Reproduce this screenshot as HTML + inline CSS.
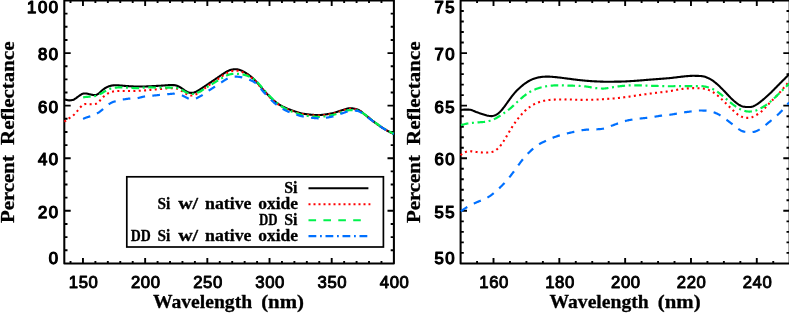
<!DOCTYPE html>
<html><head><meta charset="utf-8"><title>plot</title>
<style>html,body{margin:0;padding:0;background:#fff}svg{display:block}</style></head>
<body>
<svg width="789" height="314" viewBox="0 0 789 314" style="will-change:transform">
<rect width="789" height="314" fill="#fff"/>
<rect x="64.3" y="0.5" width="329.59999999999997" height="262.9" fill="none" stroke="#000" stroke-width="2.05" stroke-linejoin="round"/>
<rect x="460.6" y="0.5" width="329.1" height="262.9" fill="none" stroke="#000" stroke-width="2.05" stroke-linejoin="round"/>
<path d="M70.52 263.4 v-2.4 M70.52 0.5 v2.4 M82.96 263.4 v-5.4 M82.96 0.5 v5.4 M95.39 263.4 v-2.4 M95.39 0.5 v2.4 M107.83 263.4 v-2.4 M107.83 0.5 v2.4 M120.27 263.4 v-2.4 M120.27 0.5 v2.4 M132.71 263.4 v-2.4 M132.71 0.5 v2.4 M145.15 263.4 v-5.4 M145.15 0.5 v5.4 M157.58 263.4 v-2.4 M157.58 0.5 v2.4 M170.02 263.4 v-2.4 M170.02 0.5 v2.4 M182.46 263.4 v-2.4 M182.46 0.5 v2.4 M194.90 263.4 v-2.4 M194.90 0.5 v2.4 M207.33 263.4 v-5.4 M207.33 0.5 v5.4 M219.77 263.4 v-2.4 M219.77 0.5 v2.4 M232.21 263.4 v-2.4 M232.21 0.5 v2.4 M244.65 263.4 v-2.4 M244.65 0.5 v2.4 M257.08 263.4 v-2.4 M257.08 0.5 v2.4 M269.52 263.4 v-5.4 M269.52 0.5 v5.4 M281.96 263.4 v-2.4 M281.96 0.5 v2.4 M294.40 263.4 v-2.4 M294.40 0.5 v2.4 M306.84 263.4 v-2.4 M306.84 0.5 v2.4 M319.27 263.4 v-2.4 M319.27 0.5 v2.4 M331.71 263.4 v-5.4 M331.71 0.5 v5.4 M344.15 263.4 v-2.4 M344.15 0.5 v2.4 M356.59 263.4 v-2.4 M356.59 0.5 v2.4 M369.02 263.4 v-2.4 M369.02 0.5 v2.4 M381.46 263.4 v-2.4 M381.46 0.5 v2.4 M64.3 250.25 h3.2 M393.9 250.25 h-3.2 M64.3 237.11 h3.2 M393.9 237.11 h-3.2 M64.3 223.96 h3.2 M393.9 223.96 h-3.2 M64.3 210.82 h6.4 M393.9 210.82 h-6.4 M64.3 197.67 h3.2 M393.9 197.67 h-3.2 M64.3 184.53 h3.2 M393.9 184.53 h-3.2 M64.3 171.38 h3.2 M393.9 171.38 h-3.2 M64.3 158.24 h6.4 M393.9 158.24 h-6.4 M64.3 145.09 h3.2 M393.9 145.09 h-3.2 M64.3 131.95 h3.2 M393.9 131.95 h-3.2 M64.3 118.80 h3.2 M393.9 118.80 h-3.2 M64.3 105.66 h6.4 M393.9 105.66 h-6.4 M64.3 92.51 h3.2 M393.9 92.51 h-3.2 M64.3 79.37 h3.2 M393.9 79.37 h-3.2 M64.3 66.22 h3.2 M393.9 66.22 h-3.2 M64.3 53.08 h6.4 M393.9 53.08 h-6.4 M64.3 39.94 h3.2 M393.9 39.94 h-3.2 M64.3 26.79 h3.2 M393.9 26.79 h-3.2 M64.3 13.65 h3.2 M393.9 13.65 h-3.2" stroke="#000" stroke-width="1.9" fill="none"/>
<path d="M477.06 263.4 v-2.4 M477.06 0.5 v2.4 M493.51 263.4 v-5.4 M493.51 0.5 v5.4 M509.97 263.4 v-2.4 M509.97 0.5 v2.4 M526.42 263.4 v-2.4 M526.42 0.5 v2.4 M542.88 263.4 v-2.4 M542.88 0.5 v2.4 M559.33 263.4 v-5.4 M559.33 0.5 v5.4 M575.79 263.4 v-2.4 M575.79 0.5 v2.4 M592.24 263.4 v-2.4 M592.24 0.5 v2.4 M608.70 263.4 v-2.4 M608.70 0.5 v2.4 M625.15 263.4 v-5.4 M625.15 0.5 v5.4 M641.61 263.4 v-2.4 M641.61 0.5 v2.4 M658.06 263.4 v-2.4 M658.06 0.5 v2.4 M674.52 263.4 v-2.4 M674.52 0.5 v2.4 M690.97 263.4 v-5.4 M690.97 0.5 v5.4 M707.43 263.4 v-2.4 M707.43 0.5 v2.4 M723.88 263.4 v-2.4 M723.88 0.5 v2.4 M740.34 263.4 v-2.4 M740.34 0.5 v2.4 M756.79 263.4 v-5.4 M756.79 0.5 v5.4 M773.25 263.4 v-2.4 M773.25 0.5 v2.4 M460.6 252.88 h3.2 M789.7 252.88 h-3.2 M460.6 242.37 h3.2 M789.7 242.37 h-3.2 M460.6 231.85 h3.2 M789.7 231.85 h-3.2 M460.6 221.34 h3.2 M789.7 221.34 h-3.2 M460.6 210.82 h6.4 M789.7 210.82 h-6.4 M460.6 200.30 h3.2 M789.7 200.30 h-3.2 M460.6 189.79 h3.2 M789.7 189.79 h-3.2 M460.6 179.27 h3.2 M789.7 179.27 h-3.2 M460.6 168.76 h3.2 M789.7 168.76 h-3.2 M460.6 158.24 h6.4 M789.7 158.24 h-6.4 M460.6 147.72 h3.2 M789.7 147.72 h-3.2 M460.6 137.21 h3.2 M789.7 137.21 h-3.2 M460.6 126.69 h3.2 M789.7 126.69 h-3.2 M460.6 116.18 h3.2 M789.7 116.18 h-3.2 M460.6 105.66 h6.4 M789.7 105.66 h-6.4 M460.6 95.14 h3.2 M789.7 95.14 h-3.2 M460.6 84.63 h3.2 M789.7 84.63 h-3.2 M460.6 74.11 h3.2 M789.7 74.11 h-3.2 M460.6 63.60 h3.2 M789.7 63.60 h-3.2 M460.6 53.08 h6.4 M789.7 53.08 h-6.4 M460.6 42.56 h3.2 M789.7 42.56 h-3.2 M460.6 32.05 h3.2 M789.7 32.05 h-3.2 M460.6 21.53 h3.2 M789.7 21.53 h-3.2 M460.6 11.02 h3.2 M789.7 11.02 h-3.2" stroke="#000" stroke-width="1.9" fill="none"/>
<clipPath id="cl"><rect x="63.3" y="0.5" width="331.59999999999997" height="262.9"/></clipPath>
<g clip-path="url(#cl)" fill="none" stroke-linejoin="round">
<path d="M64.30 99.50 L64.61 99.52 L64.92 99.55 L65.23 99.60 L65.54 99.66 L65.85 99.73 L66.17 99.80 L66.48 99.88 L66.79 99.97 L67.10 100.05 L67.41 100.12 L67.72 100.19 L68.03 100.25 L68.34 100.30 L68.65 100.33 L68.96 100.35 L69.28 100.36 L69.59 100.36 L69.90 100.35 L70.21 100.33 L70.52 100.30 L70.83 100.26 L71.14 100.22 L71.45 100.17 L71.76 100.12 L72.07 100.08 L72.38 100.03 L72.70 99.97 L73.01 99.89 L73.32 99.80 L73.63 99.68 L73.94 99.53 L74.25 99.35 L74.56 99.16 L74.87 98.95 L75.18 98.73 L75.49 98.51 L75.80 98.29 L76.12 98.08 L76.43 97.86 L76.74 97.64 L77.05 97.41 L77.36 97.19 L77.67 96.96 L77.98 96.72 L78.29 96.49 L78.60 96.25 L78.91 96.02 L79.23 95.79 L79.54 95.57 L79.85 95.36 L80.16 95.15 L80.47 94.94 L80.78 94.75 L81.09 94.55 L81.40 94.36 L81.71 94.18 L82.02 94.02 L82.33 93.87 L82.65 93.75 L82.96 93.65 L83.27 93.58 L83.58 93.54 L83.89 93.52 L84.20 93.51 L84.51 93.51 L84.82 93.51 L85.13 93.51 L85.44 93.50 L85.76 93.50 L86.07 93.51 L86.38 93.52 L86.69 93.56 L87.00 93.61 L87.31 93.68 L87.62 93.75 L87.93 93.84 L88.24 93.93 L88.55 94.02 L88.86 94.10 L89.18 94.17 L89.49 94.25 L89.80 94.32 L90.11 94.38 L90.42 94.45 L90.73 94.52 L91.04 94.58 L91.35 94.65 L91.66 94.71 L91.97 94.78 L92.28 94.84 L92.60 94.90 L92.91 94.96 L93.22 95.01 L93.53 95.06 L93.84 95.09 L94.15 95.12 L94.46 95.13 L94.77 95.12 L95.08 95.10 L95.39 95.06 L95.71 95.00 L96.02 94.93 L96.33 94.83 L96.64 94.71 L96.95 94.57 L97.26 94.41 L97.57 94.24 L97.88 94.04 L98.19 93.82 L98.50 93.59 L98.81 93.35 L99.13 93.09 L99.44 92.82 L99.75 92.54 L100.06 92.26 L100.37 91.97 L100.68 91.69 L100.99 91.40 L101.30 91.11 L101.61 90.82 L101.92 90.54 L102.24 90.27 L102.55 90.00 L102.86 89.74 L103.17 89.49 L103.48 89.25 L103.79 89.03 L104.10 88.81 L104.41 88.60 L104.72 88.40 L105.03 88.21 L105.34 88.02 L105.66 87.84 L105.97 87.66 L106.28 87.49 L106.59 87.33 L106.90 87.17 L107.21 87.02 L107.52 86.87 L107.83 86.73 L108.14 86.60 L108.45 86.47 L108.76 86.35 L109.08 86.24 L109.39 86.14 L109.70 86.04 L110.01 85.95 L110.32 85.87 L110.63 85.79 L110.94 85.72 L111.25 85.65 L111.56 85.59 L111.87 85.54 L112.19 85.49 L112.50 85.45 L112.81 85.41 L113.12 85.38 L113.43 85.35 L113.74 85.32 L114.05 85.30 L114.36 85.29 L114.67 85.27 L114.98 85.27 L115.29 85.26 L115.61 85.26 L115.92 85.26 L116.23 85.26 L116.54 85.27 L116.85 85.28 L117.16 85.29 L117.47 85.30 L117.78 85.32 L118.09 85.34 L118.40 85.35 L118.72 85.37 L119.03 85.39 L119.34 85.41 L119.65 85.43 L119.96 85.46 L120.27 85.48 L120.58 85.51 L120.89 85.53 L121.20 85.56 L121.51 85.59 L121.82 85.61 L122.14 85.64 L122.45 85.67 L122.76 85.70 L123.07 85.72 L123.38 85.75 L123.69 85.78 L124.00 85.80 L124.31 85.83 L124.62 85.86 L124.93 85.88 L125.24 85.91 L125.56 85.94 L125.87 85.96 L126.18 85.99 L126.49 86.01 L126.80 86.04 L127.11 86.06 L127.42 86.08 L127.73 86.11 L128.04 86.13 L128.35 86.15 L128.67 86.17 L128.98 86.19 L129.29 86.21 L129.60 86.23 L129.91 86.25 L130.22 86.27 L130.53 86.29 L130.84 86.31 L131.15 86.33 L131.46 86.35 L131.77 86.36 L132.09 86.37 L132.40 86.39 L132.71 86.40 L133.02 86.41 L133.33 86.42 L133.64 86.43 L133.95 86.44 L134.26 86.45 L134.57 86.46 L134.88 86.47 L135.20 86.48 L135.51 86.49 L135.82 86.50 L136.13 86.50 L136.44 86.51 L136.75 86.51 L137.06 86.52 L137.37 86.52 L137.68 86.53 L137.99 86.53 L138.30 86.53 L138.62 86.53 L138.93 86.53 L139.24 86.53 L139.55 86.53 L139.86 86.52 L140.17 86.52 L140.48 86.52 L140.79 86.52 L141.10 86.52 L141.41 86.51 L141.72 86.51 L142.04 86.51 L142.35 86.51 L142.66 86.50 L142.97 86.50 L143.28 86.50 L143.59 86.49 L143.90 86.49 L144.21 86.48 L144.52 86.48 L144.83 86.47 L145.15 86.46 L145.46 86.45 L145.77 86.44 L146.08 86.43 L146.39 86.42 L146.70 86.40 L147.01 86.39 L147.32 86.38 L147.63 86.36 L147.94 86.35 L148.25 86.33 L148.57 86.32 L148.88 86.31 L149.19 86.29 L149.50 86.28 L149.81 86.26 L150.12 86.25 L150.43 86.23 L150.74 86.22 L151.05 86.20 L151.36 86.18 L151.68 86.17 L151.99 86.15 L152.30 86.13 L152.61 86.11 L152.92 86.10 L153.23 86.08 L153.54 86.06 L153.85 86.05 L154.16 86.03 L154.47 86.01 L154.78 86.00 L155.10 85.98 L155.41 85.97 L155.72 85.95 L156.03 85.93 L156.34 85.92 L156.65 85.90 L156.96 85.89 L157.27 85.87 L157.58 85.86 L157.89 85.84 L158.20 85.82 L158.52 85.81 L158.83 85.79 L159.14 85.78 L159.45 85.76 L159.76 85.74 L160.07 85.73 L160.38 85.71 L160.69 85.70 L161.00 85.68 L161.31 85.66 L161.63 85.65 L161.94 85.63 L162.25 85.61 L162.56 85.59 L162.87 85.56 L163.18 85.54 L163.49 85.51 L163.80 85.49 L164.11 85.46 L164.42 85.43 L164.73 85.41 L165.05 85.38 L165.36 85.36 L165.67 85.33 L165.98 85.31 L166.29 85.29 L166.60 85.27 L166.91 85.24 L167.22 85.22 L167.53 85.20 L167.84 85.18 L168.16 85.16 L168.47 85.14 L168.78 85.12 L169.09 85.11 L169.40 85.09 L169.71 85.08 L170.02 85.07 L170.33 85.06 L170.64 85.05 L170.95 85.05 L171.26 85.05 L171.58 85.06 L171.89 85.06 L172.20 85.07 L172.51 85.07 L172.82 85.08 L173.13 85.08 L173.44 85.09 L173.75 85.11 L174.06 85.13 L174.37 85.16 L174.68 85.20 L175.00 85.25 L175.31 85.31 L175.62 85.38 L175.93 85.45 L176.24 85.54 L176.55 85.63 L176.86 85.72 L177.17 85.83 L177.48 85.95 L177.79 86.07 L178.11 86.20 L178.42 86.34 L178.73 86.49 L179.04 86.65 L179.35 86.82 L179.66 86.99 L179.97 87.17 L180.28 87.36 L180.59 87.55 L180.90 87.75 L181.21 87.95 L181.53 88.15 L181.84 88.36 L182.15 88.57 L182.46 88.78 L182.77 89.00 L183.08 89.21 L183.39 89.43 L183.70 89.65 L184.01 89.86 L184.32 90.08 L184.64 90.29 L184.95 90.50 L185.26 90.71 L185.57 90.91 L185.88 91.10 L186.19 91.29 L186.50 91.46 L186.81 91.64 L187.12 91.80 L187.43 91.95 L187.74 92.10 L188.06 92.24 L188.37 92.36 L188.68 92.47 L188.99 92.57 L189.30 92.65 L189.61 92.71 L189.92 92.76 L190.23 92.80 L190.54 92.82 L190.85 92.84 L191.16 92.85 L191.48 92.86 L191.79 92.86 L192.10 92.86 L192.41 92.84 L192.72 92.82 L193.03 92.77 L193.34 92.72 L193.65 92.64 L193.96 92.55 L194.27 92.45 L194.59 92.33 L194.90 92.21 L195.21 92.07 L195.52 91.93 L195.83 91.78 L196.14 91.62 L196.45 91.46 L196.76 91.29 L197.07 91.13 L197.38 90.96 L197.69 90.78 L198.01 90.61 L198.32 90.43 L198.63 90.24 L198.94 90.06 L199.25 89.86 L199.56 89.67 L199.87 89.47 L200.18 89.27 L200.49 89.07 L200.80 88.87 L201.12 88.66 L201.43 88.46 L201.74 88.25 L202.05 88.04 L202.36 87.83 L202.67 87.62 L202.98 87.42 L203.29 87.21 L203.60 87.00 L203.91 86.79 L204.22 86.58 L204.54 86.38 L204.85 86.17 L205.16 85.97 L205.47 85.76 L205.78 85.55 L206.09 85.35 L206.40 85.14 L206.71 84.94 L207.02 84.73 L207.33 84.52 L207.64 84.31 L207.96 84.11 L208.27 83.90 L208.58 83.69 L208.89 83.48 L209.20 83.28 L209.51 83.07 L209.82 82.86 L210.13 82.65 L210.44 82.44 L210.75 82.23 L211.07 82.02 L211.38 81.82 L211.69 81.61 L212.00 81.40 L212.31 81.19 L212.62 80.98 L212.93 80.77 L213.24 80.56 L213.55 80.35 L213.86 80.14 L214.17 79.93 L214.49 79.73 L214.80 79.52 L215.11 79.31 L215.42 79.10 L215.73 78.89 L216.04 78.68 L216.35 78.47 L216.66 78.26 L216.97 78.05 L217.28 77.83 L217.60 77.62 L217.91 77.41 L218.22 77.20 L218.53 76.99 L218.84 76.78 L219.15 76.57 L219.46 76.35 L219.77 76.14 L220.08 75.93 L220.39 75.71 L220.70 75.50 L221.02 75.28 L221.33 75.07 L221.64 74.86 L221.95 74.64 L222.26 74.43 L222.57 74.22 L222.88 74.01 L223.19 73.80 L223.50 73.60 L223.81 73.40 L224.12 73.19 L224.44 72.99 L224.75 72.79 L225.06 72.59 L225.37 72.39 L225.68 72.19 L225.99 72.00 L226.30 71.82 L226.61 71.64 L226.92 71.48 L227.23 71.32 L227.55 71.17 L227.86 71.02 L228.17 70.88 L228.48 70.74 L228.79 70.61 L229.10 70.47 L229.41 70.34 L229.72 70.21 L230.03 70.09 L230.34 69.98 L230.65 69.88 L230.97 69.80 L231.28 69.72 L231.59 69.65 L231.90 69.58 L232.21 69.53 L232.52 69.48 L232.83 69.44 L233.14 69.40 L233.45 69.36 L233.76 69.33 L234.08 69.30 L234.39 69.27 L234.70 69.24 L235.01 69.22 L235.32 69.21 L235.63 69.20 L235.94 69.21 L236.25 69.22 L236.56 69.25 L236.87 69.29 L237.18 69.34 L237.50 69.40 L237.81 69.46 L238.12 69.53 L238.43 69.61 L238.74 69.69 L239.05 69.77 L239.36 69.86 L239.67 69.96 L239.98 70.05 L240.29 70.15 L240.60 70.26 L240.92 70.37 L241.23 70.49 L241.54 70.62 L241.85 70.76 L242.16 70.92 L242.47 71.08 L242.78 71.24 L243.09 71.41 L243.40 71.58 L243.71 71.75 L244.03 71.93 L244.34 72.10 L244.65 72.27 L244.96 72.45 L245.27 72.63 L245.58 72.81 L245.89 73.00 L246.20 73.19 L246.51 73.38 L246.82 73.57 L247.13 73.77 L247.45 73.98 L247.76 74.18 L248.07 74.39 L248.38 74.61 L248.69 74.83 L249.00 75.05 L249.31 75.27 L249.62 75.50 L249.93 75.73 L250.24 75.97 L250.56 76.21 L250.87 76.46 L251.18 76.71 L251.49 76.97 L251.80 77.24 L252.11 77.51 L252.42 77.79 L252.73 78.08 L253.04 78.37 L253.35 78.67 L253.66 78.98 L253.98 79.29 L254.29 79.61 L254.60 79.93 L254.91 80.25 L255.22 80.58 L255.53 80.91 L255.84 81.24 L256.15 81.57 L256.46 81.90 L256.77 82.24 L257.08 82.57 L257.40 82.91 L257.71 83.25 L258.02 83.60 L258.33 83.95 L258.64 84.31 L258.95 84.67 L259.26 85.04 L259.57 85.41 L259.88 85.79 L260.19 86.16 L260.51 86.54 L260.82 86.91 L261.13 87.29 L261.44 87.66 L261.75 88.03 L262.06 88.39 L262.37 88.75 L262.68 89.11 L262.99 89.46 L263.30 89.82 L263.61 90.17 L263.93 90.51 L264.24 90.86 L264.55 91.21 L264.86 91.56 L265.17 91.90 L265.48 92.24 L265.79 92.58 L266.10 92.92 L266.41 93.25 L266.72 93.58 L267.04 93.91 L267.35 94.23 L267.66 94.55 L267.97 94.87 L268.28 95.19 L268.59 95.51 L268.90 95.82 L269.21 96.13 L269.52 96.44 L269.83 96.76 L270.14 97.07 L270.46 97.38 L270.77 97.69 L271.08 97.99 L271.39 98.30 L271.70 98.60 L272.01 98.90 L272.32 99.19 L272.63 99.48 L272.94 99.76 L273.25 100.05 L273.56 100.32 L273.88 100.59 L274.19 100.86 L274.50 101.12 L274.81 101.37 L275.12 101.62 L275.43 101.86 L275.74 102.10 L276.05 102.33 L276.36 102.56 L276.67 102.78 L276.99 103.00 L277.30 103.22 L277.61 103.43 L277.92 103.64 L278.23 103.85 L278.54 104.06 L278.85 104.26 L279.16 104.46 L279.47 104.66 L279.78 104.85 L280.09 105.04 L280.41 105.23 L280.72 105.41 L281.03 105.59 L281.34 105.77 L281.65 105.94 L281.96 106.11 L282.27 106.28 L282.58 106.44 L282.89 106.60 L283.20 106.76 L283.52 106.91 L283.83 107.06 L284.14 107.21 L284.45 107.36 L284.76 107.50 L285.07 107.65 L285.38 107.79 L285.69 107.93 L286.00 108.07 L286.31 108.20 L286.62 108.34 L286.94 108.47 L287.25 108.60 L287.56 108.73 L287.87 108.86 L288.18 108.99 L288.49 109.11 L288.80 109.23 L289.11 109.35 L289.42 109.47 L289.73 109.59 L290.04 109.71 L290.36 109.83 L290.67 109.94 L290.98 110.06 L291.29 110.17 L291.60 110.28 L291.91 110.39 L292.22 110.50 L292.53 110.60 L292.84 110.71 L293.15 110.81 L293.47 110.92 L293.78 111.02 L294.09 111.12 L294.40 111.23 L294.71 111.33 L295.02 111.43 L295.33 111.54 L295.64 111.64 L295.95 111.74 L296.26 111.85 L296.57 111.95 L296.89 112.05 L297.20 112.15 L297.51 112.25 L297.82 112.35 L298.13 112.45 L298.44 112.55 L298.75 112.64 L299.06 112.74 L299.37 112.83 L299.68 112.92 L300.00 113.01 L300.31 113.09 L300.62 113.17 L300.93 113.25 L301.24 113.33 L301.55 113.40 L301.86 113.48 L302.17 113.54 L302.48 113.61 L302.79 113.67 L303.10 113.72 L303.42 113.77 L303.73 113.82 L304.04 113.87 L304.35 113.91 L304.66 113.95 L304.97 113.99 L305.28 114.03 L305.59 114.07 L305.90 114.11 L306.21 114.15 L306.52 114.19 L306.84 114.23 L307.15 114.27 L307.46 114.31 L307.77 114.34 L308.08 114.38 L308.39 114.42 L308.70 114.45 L309.01 114.49 L309.32 114.52 L309.63 114.56 L309.95 114.59 L310.26 114.62 L310.57 114.65 L310.88 114.68 L311.19 114.71 L311.50 114.74 L311.81 114.77 L312.12 114.79 L312.43 114.82 L312.74 114.84 L313.05 114.87 L313.37 114.89 L313.68 114.91 L313.99 114.93 L314.30 114.95 L314.61 114.96 L314.92 114.98 L315.23 114.99 L315.54 115.01 L315.85 115.02 L316.16 115.03 L316.48 115.04 L316.79 115.05 L317.10 115.05 L317.41 115.06 L317.72 115.06 L318.03 115.06 L318.34 115.06 L318.65 115.05 L318.96 115.04 L319.27 115.04 L319.58 115.02 L319.90 115.01 L320.21 114.99 L320.52 114.98 L320.83 114.96 L321.14 114.93 L321.45 114.91 L321.76 114.88 L322.07 114.85 L322.38 114.82 L322.69 114.79 L323.00 114.76 L323.32 114.72 L323.63 114.69 L323.94 114.65 L324.25 114.61 L324.56 114.57 L324.87 114.52 L325.18 114.48 L325.49 114.44 L325.80 114.39 L326.11 114.34 L326.43 114.29 L326.74 114.24 L327.05 114.19 L327.36 114.14 L327.67 114.09 L327.98 114.04 L328.29 113.99 L328.60 113.93 L328.91 113.88 L329.22 113.82 L329.53 113.77 L329.85 113.71 L330.16 113.66 L330.47 113.60 L330.78 113.54 L331.09 113.49 L331.40 113.43 L331.71 113.38 L332.02 113.32 L332.33 113.26 L332.64 113.19 L332.96 113.13 L333.27 113.05 L333.58 112.97 L333.89 112.89 L334.20 112.80 L334.51 112.71 L334.82 112.62 L335.13 112.52 L335.44 112.42 L335.75 112.32 L336.06 112.22 L336.38 112.12 L336.69 112.01 L337.00 111.90 L337.31 111.79 L337.62 111.69 L337.93 111.58 L338.24 111.47 L338.55 111.36 L338.86 111.25 L339.17 111.14 L339.48 111.03 L339.80 110.93 L340.11 110.83 L340.42 110.73 L340.73 110.63 L341.04 110.54 L341.35 110.45 L341.66 110.36 L341.97 110.27 L342.28 110.18 L342.59 110.08 L342.91 109.99 L343.22 109.89 L343.53 109.79 L343.84 109.69 L344.15 109.59 L344.46 109.49 L344.77 109.38 L345.08 109.28 L345.39 109.18 L345.70 109.08 L346.01 108.98 L346.33 108.89 L346.64 108.80 L346.95 108.71 L347.26 108.63 L347.57 108.56 L347.88 108.49 L348.19 108.42 L348.50 108.37 L348.81 108.32 L349.12 108.28 L349.44 108.24 L349.75 108.22 L350.06 108.21 L350.37 108.20 L350.68 108.21 L350.99 108.22 L351.30 108.24 L351.61 108.26 L351.92 108.29 L352.23 108.33 L352.54 108.37 L352.86 108.42 L353.17 108.47 L353.48 108.53 L353.79 108.59 L354.10 108.65 L354.41 108.72 L354.72 108.79 L355.03 108.86 L355.34 108.94 L355.65 109.01 L355.96 109.09 L356.28 109.17 L356.59 109.25 L356.90 109.34 L357.21 109.43 L357.52 109.54 L357.83 109.65 L358.14 109.77 L358.45 109.91 L358.76 110.06 L359.07 110.22 L359.39 110.39 L359.70 110.58 L360.01 110.79 L360.32 111.00 L360.63 111.22 L360.94 111.45 L361.25 111.69 L361.56 111.93 L361.87 112.18 L362.18 112.43 L362.49 112.68 L362.81 112.94 L363.12 113.20 L363.43 113.46 L363.74 113.72 L364.05 113.97 L364.36 114.23 L364.67 114.47 L364.98 114.72 L365.29 114.96 L365.60 115.19 L365.92 115.43 L366.23 115.67 L366.54 115.90 L366.85 116.14 L367.16 116.39 L367.47 116.63 L367.78 116.88 L368.09 117.13 L368.40 117.39 L368.71 117.64 L369.02 117.90 L369.34 118.15 L369.65 118.41 L369.96 118.66 L370.27 118.92 L370.58 119.18 L370.89 119.43 L371.20 119.69 L371.51 119.94 L371.82 120.19 L372.13 120.44 L372.44 120.69 L372.76 120.93 L373.07 121.17 L373.38 121.41 L373.69 121.65 L374.00 121.88 L374.31 122.11 L374.62 122.34 L374.93 122.57 L375.24 122.80 L375.55 123.02 L375.87 123.25 L376.18 123.47 L376.49 123.69 L376.80 123.92 L377.11 124.14 L377.42 124.36 L377.73 124.58 L378.04 124.81 L378.35 125.02 L378.66 125.24 L378.97 125.46 L379.29 125.68 L379.60 125.89 L379.91 126.10 L380.22 126.32 L380.53 126.53 L380.84 126.74 L381.15 126.94 L381.46 127.15 L381.77 127.35 L382.08 127.56 L382.40 127.76 L382.71 127.96 L383.02 128.16 L383.33 128.35 L383.64 128.55 L383.95 128.74 L384.26 128.93 L384.57 129.12 L384.88 129.31 L385.19 129.49 L385.50 129.67 L385.82 129.85 L386.13 130.03 L386.44 130.21 L386.75 130.39 L387.06 130.56 L387.37 130.74 L387.68 130.91 L387.99 131.08 L388.30 131.25 L388.61 131.42 L388.92 131.59 L389.24 131.75 L389.55 131.91 L389.86 132.08 L390.17 132.24 L390.48 132.40 L390.79 132.55 L391.10 132.71 L391.41 132.86 L391.72 133.02 L392.03 133.17 L392.35 133.32 L392.66 133.47 L392.97 133.61 L393.28 133.76 L393.59 133.90 L393.90 134.05" stroke="#000" stroke-width="2.1"/>
<path d="M64.30 121.60 L64.61 121.39 L64.92 121.19 L65.23 120.98 L65.54 120.77 L65.85 120.56 L66.17 120.35 L66.48 120.14 L66.79 119.92 L67.10 119.71 L67.41 119.49 L67.72 119.28 L68.03 119.06 L68.34 118.84 L68.65 118.62 L68.96 118.40 L69.28 118.18 L69.59 117.96 L69.90 117.75 L70.21 117.53 L70.52 117.32 L70.83 117.10 L71.14 116.89 L71.45 116.67 L71.76 116.46 L72.07 116.23 L72.38 116.00 L72.70 115.77 L73.01 115.52 L73.32 115.27 L73.63 114.99 L73.94 114.71 L74.25 114.41 L74.56 114.09 L74.87 113.77 L75.18 113.44 L75.49 113.10 L75.80 112.75 L76.12 112.40 L76.43 112.05 L76.74 111.68 L77.05 111.31 L77.36 110.93 L77.67 110.55 L77.98 110.15 L78.29 109.76 L78.60 109.36 L78.91 108.97 L79.23 108.59 L79.54 108.22 L79.85 107.86 L80.16 107.51 L80.47 107.17 L80.78 106.84 L81.09 106.52 L81.40 106.21 L81.71 105.91 L82.02 105.62 L82.33 105.36 L82.65 105.12 L82.96 104.90 L83.27 104.71 L83.58 104.55 L83.89 104.40 L84.20 104.29 L84.51 104.19 L84.82 104.11 L85.13 104.04 L85.44 103.99 L85.76 103.96 L86.07 103.93 L86.38 103.92 L86.69 103.92 L87.00 103.93 L87.31 103.95 L87.62 103.97 L87.93 104.00 L88.24 104.03 L88.55 104.06 L88.86 104.08 L89.18 104.11 L89.49 104.13 L89.80 104.15 L90.11 104.17 L90.42 104.18 L90.73 104.20 L91.04 104.21 L91.35 104.22 L91.66 104.23 L91.97 104.24 L92.28 104.24 L92.60 104.25 L92.91 104.24 L93.22 104.23 L93.53 104.22 L93.84 104.20 L94.15 104.17 L94.46 104.14 L94.77 104.09 L95.08 104.03 L95.39 103.95 L95.71 103.86 L96.02 103.75 L96.33 103.62 L96.64 103.46 L96.95 103.28 L97.26 103.08 L97.57 102.86 L97.88 102.62 L98.19 102.36 L98.50 102.08 L98.81 101.78 L99.13 101.47 L99.44 101.15 L99.75 100.82 L100.06 100.48 L100.37 100.13 L100.68 99.78 L100.99 99.43 L101.30 99.08 L101.61 98.74 L101.92 98.40 L102.24 98.06 L102.55 97.74 L102.86 97.42 L103.17 97.11 L103.48 96.81 L103.79 96.52 L104.10 96.24 L104.41 95.96 L104.72 95.70 L105.03 95.45 L105.34 95.20 L105.66 94.96 L105.97 94.73 L106.28 94.50 L106.59 94.28 L106.90 94.07 L107.21 93.87 L107.52 93.68 L107.83 93.50 L108.14 93.33 L108.45 93.16 L108.76 93.01 L109.08 92.86 L109.39 92.71 L109.70 92.57 L110.01 92.44 L110.32 92.31 L110.63 92.20 L110.94 92.09 L111.25 91.98 L111.56 91.89 L111.87 91.80 L112.19 91.72 L112.50 91.65 L112.81 91.58 L113.12 91.52 L113.43 91.46 L113.74 91.41 L114.05 91.36 L114.36 91.31 L114.67 91.27 L114.98 91.23 L115.29 91.20 L115.61 91.17 L115.92 91.14 L116.23 91.11 L116.54 91.09 L116.85 91.07 L117.16 91.05 L117.47 91.04 L117.78 91.02 L118.09 91.01 L118.40 91.00 L118.72 90.99 L119.03 90.98 L119.34 90.97 L119.65 90.97 L119.96 90.96 L120.27 90.96 L120.58 90.96 L120.89 90.96 L121.20 90.96 L121.51 90.96 L121.82 90.96 L122.14 90.96 L122.45 90.96 L122.76 90.96 L123.07 90.96 L123.38 90.96 L123.69 90.96 L124.00 90.96 L124.31 90.97 L124.62 90.98 L124.93 90.99 L125.24 91.00 L125.56 91.01 L125.87 91.02 L126.18 91.03 L126.49 91.04 L126.80 91.05 L127.11 91.05 L127.42 91.06 L127.73 91.06 L128.04 91.06 L128.35 91.06 L128.67 91.06 L128.98 91.06 L129.29 91.06 L129.60 91.05 L129.91 91.05 L130.22 91.05 L130.53 91.05 L130.84 91.04 L131.15 91.04 L131.46 91.04 L131.77 91.04 L132.09 91.04 L132.40 91.03 L132.71 91.03 L133.02 91.02 L133.33 91.02 L133.64 91.01 L133.95 91.00 L134.26 90.99 L134.57 90.98 L134.88 90.97 L135.20 90.96 L135.51 90.95 L135.82 90.94 L136.13 90.92 L136.44 90.91 L136.75 90.90 L137.06 90.88 L137.37 90.87 L137.68 90.86 L137.99 90.84 L138.30 90.83 L138.62 90.82 L138.93 90.80 L139.24 90.79 L139.55 90.77 L139.86 90.76 L140.17 90.74 L140.48 90.73 L140.79 90.71 L141.10 90.69 L141.41 90.68 L141.72 90.66 L142.04 90.64 L142.35 90.62 L142.66 90.59 L142.97 90.57 L143.28 90.55 L143.59 90.52 L143.90 90.50 L144.21 90.47 L144.52 90.44 L144.83 90.42 L145.15 90.39 L145.46 90.36 L145.77 90.34 L146.08 90.31 L146.39 90.28 L146.70 90.25 L147.01 90.22 L147.32 90.19 L147.63 90.16 L147.94 90.13 L148.25 90.09 L148.57 90.06 L148.88 90.03 L149.19 90.00 L149.50 89.97 L149.81 89.94 L150.12 89.91 L150.43 89.88 L150.74 89.85 L151.05 89.82 L151.36 89.79 L151.68 89.76 L151.99 89.74 L152.30 89.71 L152.61 89.68 L152.92 89.65 L153.23 89.62 L153.54 89.59 L153.85 89.57 L154.16 89.54 L154.47 89.51 L154.78 89.48 L155.10 89.46 L155.41 89.43 L155.72 89.40 L156.03 89.38 L156.34 89.35 L156.65 89.32 L156.96 89.30 L157.27 89.27 L157.58 89.25 L157.89 89.22 L158.20 89.20 L158.52 89.18 L158.83 89.16 L159.14 89.13 L159.45 89.11 L159.76 89.09 L160.07 89.06 L160.38 89.04 L160.69 89.01 L161.00 88.98 L161.31 88.95 L161.63 88.92 L161.94 88.89 L162.25 88.86 L162.56 88.82 L162.87 88.78 L163.18 88.74 L163.49 88.70 L163.80 88.66 L164.11 88.62 L164.42 88.58 L164.73 88.54 L165.05 88.51 L165.36 88.47 L165.67 88.44 L165.98 88.41 L166.29 88.38 L166.60 88.35 L166.91 88.32 L167.22 88.30 L167.53 88.28 L167.84 88.25 L168.16 88.23 L168.47 88.22 L168.78 88.20 L169.09 88.18 L169.40 88.17 L169.71 88.16 L170.02 88.15 L170.33 88.14 L170.64 88.14 L170.95 88.14 L171.26 88.14 L171.58 88.14 L171.89 88.15 L172.20 88.15 L172.51 88.16 L172.82 88.16 L173.13 88.17 L173.44 88.17 L173.75 88.18 L174.06 88.20 L174.37 88.22 L174.68 88.24 L175.00 88.28 L175.31 88.32 L175.62 88.37 L175.93 88.42 L176.24 88.49 L176.55 88.56 L176.86 88.63 L177.17 88.72 L177.48 88.82 L177.79 88.92 L178.11 89.03 L178.42 89.16 L178.73 89.29 L179.04 89.44 L179.35 89.59 L179.66 89.75 L179.97 89.91 L180.28 90.09 L180.59 90.26 L180.90 90.45 L181.21 90.64 L181.53 90.83 L181.84 91.02 L182.15 91.23 L182.46 91.43 L182.77 91.63 L183.08 91.84 L183.39 92.05 L183.70 92.25 L184.01 92.45 L184.32 92.66 L184.64 92.86 L184.95 93.06 L185.26 93.26 L185.57 93.46 L185.88 93.66 L186.19 93.86 L186.50 94.05 L186.81 94.24 L187.12 94.42 L187.43 94.59 L187.74 94.74 L188.06 94.88 L188.37 95.01 L188.68 95.12 L188.99 95.22 L189.30 95.31 L189.61 95.38 L189.92 95.44 L190.23 95.49 L190.54 95.53 L190.85 95.55 L191.16 95.56 L191.48 95.57 L191.79 95.56 L192.10 95.54 L192.41 95.51 L192.72 95.46 L193.03 95.40 L193.34 95.33 L193.65 95.24 L193.96 95.14 L194.27 95.03 L194.59 94.91 L194.90 94.79 L195.21 94.67 L195.52 94.53 L195.83 94.40 L196.14 94.25 L196.45 94.09 L196.76 93.91 L197.07 93.72 L197.38 93.52 L197.69 93.30 L198.01 93.08 L198.32 92.86 L198.63 92.64 L198.94 92.41 L199.25 92.20 L199.56 91.98 L199.87 91.77 L200.18 91.56 L200.49 91.35 L200.80 91.14 L201.12 90.93 L201.43 90.72 L201.74 90.51 L202.05 90.29 L202.36 90.08 L202.67 89.86 L202.98 89.64 L203.29 89.42 L203.60 89.19 L203.91 88.96 L204.22 88.72 L204.54 88.48 L204.85 88.24 L205.16 88.00 L205.47 87.75 L205.78 87.51 L206.09 87.26 L206.40 87.02 L206.71 86.78 L207.02 86.54 L207.33 86.30 L207.64 86.06 L207.96 85.83 L208.27 85.61 L208.58 85.38 L208.89 85.17 L209.20 84.95 L209.51 84.73 L209.82 84.52 L210.13 84.31 L210.44 84.10 L210.75 83.88 L211.07 83.67 L211.38 83.46 L211.69 83.25 L212.00 83.04 L212.31 82.83 L212.62 82.62 L212.93 82.41 L213.24 82.20 L213.55 81.99 L213.86 81.78 L214.17 81.57 L214.49 81.36 L214.80 81.14 L215.11 80.93 L215.42 80.72 L215.73 80.51 L216.04 80.30 L216.35 80.09 L216.66 79.87 L216.97 79.66 L217.28 79.45 L217.60 79.23 L217.91 79.02 L218.22 78.81 L218.53 78.59 L218.84 78.38 L219.15 78.16 L219.46 77.95 L219.77 77.73 L220.08 77.52 L220.39 77.30 L220.70 77.09 L221.02 76.87 L221.33 76.66 L221.64 76.44 L221.95 76.23 L222.26 76.02 L222.57 75.81 L222.88 75.60 L223.19 75.39 L223.50 75.18 L223.81 74.98 L224.12 74.77 L224.44 74.57 L224.75 74.37 L225.06 74.17 L225.37 73.98 L225.68 73.78 L225.99 73.60 L226.30 73.41 L226.61 73.23 L226.92 73.06 L227.23 72.89 L227.55 72.73 L227.86 72.57 L228.17 72.42 L228.48 72.27 L228.79 72.13 L229.10 72.00 L229.41 71.87 L229.72 71.75 L230.03 71.64 L230.34 71.53 L230.65 71.43 L230.97 71.33 L231.28 71.24 L231.59 71.16 L231.90 71.08 L232.21 71.01 L232.52 70.94 L232.83 70.87 L233.14 70.81 L233.45 70.76 L233.76 70.72 L234.08 70.69 L234.39 70.67 L234.70 70.66 L235.01 70.65 L235.32 70.66 L235.63 70.66 L235.94 70.67 L236.25 70.67 L236.56 70.68 L236.87 70.69 L237.18 70.70 L237.50 70.73 L237.81 70.76 L238.12 70.81 L238.43 70.87 L238.74 70.94 L239.05 71.02 L239.36 71.10 L239.67 71.19 L239.98 71.28 L240.29 71.38 L240.60 71.48 L240.92 71.58 L241.23 71.69 L241.54 71.80 L241.85 71.92 L242.16 72.05 L242.47 72.18 L242.78 72.32 L243.09 72.46 L243.40 72.61 L243.71 72.76 L244.03 72.92 L244.34 73.08 L244.65 73.24 L244.96 73.41 L245.27 73.58 L245.58 73.75 L245.89 73.92 L246.20 74.10 L246.51 74.28 L246.82 74.46 L247.13 74.65 L247.45 74.84 L247.76 75.04 L248.07 75.24 L248.38 75.44 L248.69 75.65 L249.00 75.86 L249.31 76.07 L249.62 76.29 L249.93 76.52 L250.24 76.75 L250.56 76.98 L250.87 77.22 L251.18 77.46 L251.49 77.71 L251.80 77.97 L252.11 78.23 L252.42 78.50 L252.73 78.77 L253.04 79.05 L253.35 79.34 L253.66 79.63 L253.98 79.93 L254.29 80.23 L254.60 80.54 L254.91 80.85 L255.22 81.16 L255.53 81.48 L255.84 81.81 L256.15 82.13 L256.46 82.47 L256.77 82.80 L257.08 83.14 L257.40 83.48 L257.71 83.83 L258.02 84.18 L258.33 84.53 L258.64 84.88 L258.95 85.24 L259.26 85.60 L259.57 85.96 L259.88 86.32 L260.19 86.69 L260.51 87.06 L260.82 87.42 L261.13 87.79 L261.44 88.16 L261.75 88.53 L262.06 88.89 L262.37 89.25 L262.68 89.61 L262.99 89.97 L263.30 90.32 L263.61 90.67 L263.93 91.02 L264.24 91.37 L264.55 91.71 L264.86 92.06 L265.17 92.40 L265.48 92.74 L265.79 93.08 L266.10 93.41 L266.41 93.75 L266.72 94.08 L267.04 94.41 L267.35 94.73 L267.66 95.06 L267.97 95.38 L268.28 95.70 L268.59 96.01 L268.90 96.33 L269.21 96.64 L269.52 96.95 L269.83 97.27 L270.14 97.58 L270.46 97.88 L270.77 98.19 L271.08 98.49 L271.39 98.79 L271.70 99.09 L272.01 99.38 L272.32 99.67 L272.63 99.96 L272.94 100.24 L273.25 100.52 L273.56 100.79 L273.88 101.06 L274.19 101.32 L274.50 101.58 L274.81 101.84 L275.12 102.09 L275.43 102.33 L275.74 102.57 L276.05 102.80 L276.36 103.04 L276.67 103.26 L276.99 103.49 L277.30 103.71 L277.61 103.92 L277.92 104.13 L278.23 104.34 L278.54 104.55 L278.85 104.75 L279.16 104.95 L279.47 105.15 L279.78 105.34 L280.09 105.53 L280.41 105.72 L280.72 105.90 L281.03 106.08 L281.34 106.26 L281.65 106.43 L281.96 106.60 L282.27 106.77 L282.58 106.93 L282.89 107.09 L283.20 107.25 L283.52 107.41 L283.83 107.56 L284.14 107.71 L284.45 107.86 L284.76 108.01 L285.07 108.15 L285.38 108.29 L285.69 108.43 L286.00 108.57 L286.31 108.71 L286.62 108.84 L286.94 108.98 L287.25 109.11 L287.56 109.24 L287.87 109.37 L288.18 109.49 L288.49 109.62 L288.80 109.74 L289.11 109.86 L289.42 109.98 L289.73 110.10 L290.04 110.22 L290.36 110.34 L290.67 110.45 L290.98 110.57 L291.29 110.68 L291.60 110.79 L291.91 110.90 L292.22 111.01 L292.53 111.12 L292.84 111.22 L293.15 111.33 L293.47 111.44 L293.78 111.54 L294.09 111.65 L294.40 111.75 L294.71 111.86 L295.02 111.96 L295.33 112.06 L295.64 112.17 L295.95 112.27 L296.26 112.37 L296.57 112.47 L296.89 112.57 L297.20 112.67 L297.51 112.77 L297.82 112.86 L298.13 112.96 L298.44 113.06 L298.75 113.15 L299.06 113.24 L299.37 113.33 L299.68 113.42 L300.00 113.51 L300.31 113.59 L300.62 113.67 L300.93 113.75 L301.24 113.82 L301.55 113.90 L301.86 113.96 L302.17 114.03 L302.48 114.09 L302.79 114.15 L303.10 114.21 L303.42 114.26 L303.73 114.31 L304.04 114.37 L304.35 114.41 L304.66 114.46 L304.97 114.51 L305.28 114.55 L305.59 114.59 L305.90 114.63 L306.21 114.67 L306.52 114.71 L306.84 114.75 L307.15 114.79 L307.46 114.83 L307.77 114.86 L308.08 114.90 L308.39 114.94 L308.70 114.97 L309.01 115.01 L309.32 115.04 L309.63 115.07 L309.95 115.11 L310.26 115.14 L310.57 115.17 L310.88 115.20 L311.19 115.23 L311.50 115.26 L311.81 115.28 L312.12 115.31 L312.43 115.33 L312.74 115.36 L313.05 115.38 L313.37 115.40 L313.68 115.42 L313.99 115.44 L314.30 115.46 L314.61 115.48 L314.92 115.49 L315.23 115.51 L315.54 115.52 L315.85 115.54 L316.16 115.54 L316.48 115.55 L316.79 115.55 L317.10 115.55 L317.41 115.55 L317.72 115.55 L318.03 115.55 L318.34 115.55 L318.65 115.54 L318.96 115.54 L319.27 115.54 L319.58 115.53 L319.90 115.52 L320.21 115.50 L320.52 115.49 L320.83 115.46 L321.14 115.44 L321.45 115.41 L321.76 115.39 L322.07 115.36 L322.38 115.33 L322.69 115.30 L323.00 115.26 L323.32 115.23 L323.63 115.19 L323.94 115.16 L324.25 115.12 L324.56 115.08 L324.87 115.04 L325.18 114.99 L325.49 114.95 L325.80 114.90 L326.11 114.86 L326.43 114.81 L326.74 114.76 L327.05 114.71 L327.36 114.66 L327.67 114.61 L327.98 114.56 L328.29 114.51 L328.60 114.45 L328.91 114.40 L329.22 114.34 L329.53 114.29 L329.85 114.24 L330.16 114.18 L330.47 114.12 L330.78 114.06 L331.09 114.00 L331.40 113.94 L331.71 113.88 L332.02 113.81 L332.33 113.75 L332.64 113.68 L332.96 113.60 L333.27 113.53 L333.58 113.45 L333.89 113.37 L334.20 113.29 L334.51 113.20 L334.82 113.11 L335.13 113.02 L335.44 112.93 L335.75 112.83 L336.06 112.73 L336.38 112.63 L336.69 112.52 L337.00 112.42 L337.31 112.31 L337.62 112.21 L337.93 112.10 L338.24 112.00 L338.55 111.89 L338.86 111.79 L339.17 111.68 L339.48 111.58 L339.80 111.48 L340.11 111.38 L340.42 111.28 L340.73 111.18 L341.04 111.08 L341.35 110.98 L341.66 110.89 L341.97 110.79 L342.28 110.69 L342.59 110.59 L342.91 110.50 L343.22 110.40 L343.53 110.31 L343.84 110.21 L344.15 110.11 L344.46 110.01 L344.77 109.92 L345.08 109.82 L345.39 109.72 L345.70 109.63 L346.01 109.53 L346.33 109.44 L346.64 109.36 L346.95 109.27 L347.26 109.20 L347.57 109.13 L347.88 109.07 L348.19 109.02 L348.50 108.98 L348.81 108.94 L349.12 108.91 L349.44 108.89 L349.75 108.87 L350.06 108.85 L350.37 108.84 L350.68 108.83 L350.99 108.83 L351.30 108.83 L351.61 108.84 L351.92 108.86 L352.23 108.88 L352.54 108.91 L352.86 108.95 L353.17 108.99 L353.48 109.03 L353.79 109.08 L354.10 109.13 L354.41 109.18 L354.72 109.24 L355.03 109.30 L355.34 109.36 L355.65 109.43 L355.96 109.50 L356.28 109.58 L356.59 109.67 L356.90 109.76 L357.21 109.86 L357.52 109.96 L357.83 110.07 L358.14 110.19 L358.45 110.32 L358.76 110.46 L359.07 110.61 L359.39 110.78 L359.70 110.95 L360.01 111.14 L360.32 111.33 L360.63 111.53 L360.94 111.74 L361.25 111.95 L361.56 112.17 L361.87 112.40 L362.18 112.62 L362.49 112.85 L362.81 113.09 L363.12 113.32 L363.43 113.56 L363.74 113.80 L364.05 114.04 L364.36 114.28 L364.67 114.52 L364.98 114.76 L365.29 115.00 L365.60 115.24 L365.92 115.47 L366.23 115.71 L366.54 115.95 L366.85 116.19 L367.16 116.43 L367.47 116.68 L367.78 116.92 L368.09 117.17 L368.40 117.41 L368.71 117.66 L369.02 117.91 L369.34 118.16 L369.65 118.42 L369.96 118.67 L370.27 118.92 L370.58 119.17 L370.89 119.42 L371.20 119.67 L371.51 119.92 L371.82 120.17 L372.13 120.41 L372.44 120.66 L372.76 120.90 L373.07 121.14 L373.38 121.38 L373.69 121.62 L374.00 121.86 L374.31 122.09 L374.62 122.32 L374.93 122.55 L375.24 122.78 L375.55 123.01 L375.87 123.24 L376.18 123.46 L376.49 123.69 L376.80 123.91 L377.11 124.13 L377.42 124.35 L377.73 124.57 L378.04 124.79 L378.35 125.01 L378.66 125.23 L378.97 125.45 L379.29 125.66 L379.60 125.88 L379.91 126.09 L380.22 126.30 L380.53 126.51 L380.84 126.72 L381.15 126.93 L381.46 127.13 L381.77 127.34 L382.08 127.54 L382.40 127.74 L382.71 127.94 L383.02 128.14 L383.33 128.33 L383.64 128.53 L383.95 128.72 L384.26 128.91 L384.57 129.10 L384.88 129.29 L385.19 129.47 L385.50 129.65 L385.82 129.84 L386.13 130.02 L386.44 130.19 L386.75 130.37 L387.06 130.55 L387.37 130.72 L387.68 130.89 L387.99 131.07 L388.30 131.23 L388.61 131.40 L388.92 131.57 L389.24 131.73 L389.55 131.90 L389.86 132.06 L390.17 132.22 L390.48 132.38 L390.79 132.54 L391.10 132.69 L391.41 132.85 L391.72 133.00 L392.03 133.15 L392.35 133.31 L392.66 133.46 L392.97 133.61 L393.28 133.75 L393.59 133.90 L393.90 134.05" stroke="#ff0000" stroke-width="2.1" stroke-dasharray="2 3.35"/>
<path d="M83.11 97.40 L83.42 97.33 L83.73 97.27 L84.04 97.21 L84.35 97.16 L84.66 97.11 L84.97 97.06 L85.28 97.02 L85.60 96.98 L85.91 96.95 L86.22 96.92 L86.53 96.89 L86.84 96.86 L87.15 96.84 L87.46 96.82 L87.77 96.80 L88.08 96.78 L88.39 96.76 L88.70 96.74 L89.02 96.72 L89.33 96.71 L89.64 96.69 L89.95 96.68 L90.26 96.66 L90.57 96.65 L90.88 96.63 L91.19 96.62 L91.50 96.60 L91.81 96.59 L92.13 96.56 L92.44 96.53 L92.75 96.50 L93.06 96.46 L93.37 96.41 L93.68 96.35 L93.99 96.29 L94.30 96.22 L94.61 96.15 L94.92 96.07 L95.23 95.99 L95.55 95.90 L95.86 95.80 L96.17 95.70 L96.48 95.59 L96.79 95.48 L97.10 95.36 L97.41 95.24 L97.72 95.11 L98.03 94.97 L98.34 94.84 L98.65 94.70 L98.97 94.55 L99.28 94.41 L99.59 94.26 L99.90 94.12 L100.21 93.97 L100.52 93.82 L100.83 93.67 L101.14 93.51 L101.45 93.35 L101.76 93.18 L102.08 93.00 L102.39 92.82 L102.70 92.64 L103.01 92.44 L103.32 92.25 L103.63 92.06 L103.94 91.87 L104.25 91.67 L104.56 91.48 L104.87 91.29 L105.18 91.10 L105.50 90.92 L105.81 90.74 L106.12 90.56 L106.43 90.38 L106.74 90.21 L107.05 90.04 L107.36 89.88 L107.67 89.73 L107.98 89.58 L108.29 89.44 L108.61 89.30 L108.92 89.17 L109.23 89.05 L109.54 88.94 L109.85 88.83 L110.16 88.73 L110.47 88.63 L110.78 88.54 L111.09 88.45 L111.40 88.37 L111.71 88.29 L112.03 88.22 L112.34 88.15 L112.65 88.08 L112.96 88.02 L113.27 87.97 L113.58 87.91 L113.89 87.86 L114.20 87.82 L114.51 87.78 L114.82 87.74 L115.13 87.70 L115.45 87.67 L115.76 87.64 L116.07 87.61 L116.38 87.58 L116.69 87.56 L117.00 87.53 L117.31 87.51 L117.62 87.49 L117.93 87.48 L118.24 87.46 L118.56 87.45 L118.87 87.44 L119.18 87.43 L119.49 87.43 L119.80 87.43 L120.11 87.43 L120.42 87.43 L120.73 87.43 L121.04 87.44 L121.35 87.44 L121.66 87.45 L121.98 87.46 L122.29 87.47 L122.60 87.47 L122.91 87.48 L123.22 87.49 L123.53 87.49 L123.84 87.50 L124.15 87.50 L124.46 87.51 L124.77 87.51 L125.09 87.52 L125.40 87.53 L125.71 87.53 L126.02 87.54 L126.33 87.55 L126.64 87.55 L126.95 87.56 L127.26 87.57 L127.57 87.58 L127.88 87.59 L128.19 87.60 L128.51 87.61 L128.82 87.62 L129.13 87.64 L129.44 87.65 L129.75 87.67 L130.06 87.70 L130.37 87.72 L130.68 87.75 L130.99 87.78 L131.30 87.82 L131.61 87.86 L131.93 87.89 L132.24 87.94 L132.55 87.98 L132.86 88.01 L133.17 88.05 L133.48 88.08 L133.79 88.11 L134.10 88.13 L134.41 88.15 L134.72 88.17 L135.04 88.19 L135.35 88.20 L135.66 88.21 L135.97 88.22 L136.28 88.23 L136.59 88.24 L136.90 88.23 L137.21 88.23 L137.52 88.21 L137.83 88.19 L138.14 88.16 L138.46 88.13 L138.77 88.10 L139.08 88.06 L139.39 88.03 L139.70 88.00 L140.01 87.96 L140.32 87.93 L140.63 87.90 L140.94 87.86 L141.25 87.83 L141.57 87.80 L141.88 87.77 L142.19 87.74 L142.50 87.71 L142.81 87.68 L143.12 87.66 L143.43 87.63 L143.74 87.61 L144.05 87.59 L144.36 87.57 L144.67 87.55 L144.99 87.53 L145.30 87.51 L145.61 87.50 L145.92 87.48 L146.23 87.47 L146.54 87.46 L146.85 87.46 L147.16 87.45 L147.47 87.45 L147.78 87.45 L148.09 87.45 L148.41 87.46 L148.72 87.46 L149.03 87.46 L149.34 87.45 L149.65 87.45 L149.96 87.45 L150.27 87.45 L150.58 87.45 L150.89 87.45 L151.20 87.45 L151.52 87.46 L151.83 87.46 L152.14 87.46 L152.45 87.47 L152.76 87.48 L153.07 87.49 L153.38 87.49 L153.69 87.50 L154.00 87.51 L154.31 87.52 L154.62 87.53 L154.94 87.54 L155.25 87.55 L155.56 87.56 L155.87 87.57 L156.18 87.57 L156.49 87.58 L156.80 87.59 L157.11 87.59 L157.42 87.59 L157.73 87.60 L158.05 87.60 L158.36 87.60 L158.67 87.61 L158.98 87.61 L159.29 87.62 L159.60 87.62 L159.91 87.63 L160.22 87.64 L160.53 87.64 L160.84 87.65 L161.15 87.66 L161.47 87.66 L161.78 87.66 L162.09 87.66 L162.40 87.66 L162.71 87.66 L163.02 87.66 L163.33 87.66 L163.64 87.66 L163.95 87.65 L164.26 87.65 L164.57 87.64 L164.89 87.64 L165.20 87.63 L165.51 87.63 L165.82 87.62 L166.13 87.62 L166.44 87.62 L166.75 87.61 L167.06 87.61 L167.37 87.61 L167.68 87.61 L168.00 87.61 L168.31 87.61 L168.62 87.61 L168.93 87.61 L169.24 87.61 L169.55 87.61 L169.86 87.61 L170.17 87.61 L170.48 87.61 L170.79 87.61 L171.10 87.61 L171.42 87.61 L171.73 87.61 L172.04 87.61 L172.35 87.61 L172.66 87.61 L172.97 87.62 L173.28 87.62 L173.59 87.62 L173.90 87.63 L174.21 87.64 L174.53 87.66 L174.84 87.69 L175.15 87.72 L175.46 87.76 L175.77 87.80 L176.08 87.85 L176.39 87.91 L176.70 87.96 L177.01 88.03 L177.32 88.10 L177.63 88.18 L177.95 88.26 L178.26 88.35 L178.57 88.46 L178.88 88.56 L179.19 88.68 L179.50 88.81 L179.81 88.94 L180.12 89.08 L180.43 89.23 L180.74 89.39 L181.05 89.55 L181.37 89.71 L181.68 89.88 L181.99 90.05 L182.30 90.23 L182.61 90.41 L182.92 90.58 L183.23 90.76 L183.54 90.94 L183.85 91.12 L184.16 91.29 L184.48 91.47 L184.79 91.64 L185.10 91.80 L185.41 91.97 L185.72 92.13 L186.03 92.29 L186.34 92.44 L186.65 92.59 L186.96 92.73 L187.27 92.87 L187.58 93.01 L187.90 93.13 L188.21 93.25 L188.52 93.37 L188.83 93.47 L189.14 93.57 L189.45 93.66 L189.76 93.73 L190.07 93.80 L190.38 93.85 L190.69 93.90 L191.01 93.93 L191.32 93.96 L191.63 93.98 L191.94 93.98 L192.25 93.98 L192.56 93.97 L192.87 93.96 L193.18 93.93 L193.49 93.90 L193.80 93.86 L194.11 93.81 L194.43 93.75 L194.74 93.68 L195.05 93.60 L195.36 93.51 L195.67 93.42 L195.98 93.31 L196.29 93.20 L196.60 93.08 L196.91 92.96 L197.22 92.84 L197.53 92.72 L197.85 92.59 L198.16 92.46 L198.47 92.32 L198.78 92.18 L199.09 92.03 L199.40 91.87 L199.71 91.70 L200.02 91.53 L200.33 91.36 L200.64 91.17 L200.96 90.99 L201.27 90.80 L201.58 90.61 L201.89 90.41 L202.20 90.21 L202.51 90.01 L202.82 89.81 L203.13 89.61 L203.44 89.40 L203.75 89.20 L204.06 88.99 L204.38 88.79 L204.69 88.58 L205.00 88.38 L205.31 88.18 L205.62 87.98 L205.93 87.78 L206.24 87.58 L206.55 87.39 L206.86 87.20 L207.17 87.02 L207.49 86.83 L207.80 86.64 L208.11 86.45 L208.42 86.26 L208.73 86.07 L209.04 85.88 L209.35 85.69 L209.66 85.49 L209.97 85.30 L210.28 85.11 L210.59 84.92 L210.91 84.73 L211.22 84.55 L211.53 84.36 L211.84 84.17 L212.15 83.98 L212.46 83.80 L212.77 83.61 L213.08 83.42 L213.39 83.24 L213.70 83.05 L214.01 82.86 L214.33 82.67 L214.64 82.49 L214.95 82.30 L215.26 82.11 L215.57 81.92 L215.88 81.74 L216.19 81.55 L216.50 81.36 L216.81 81.17 L217.12 80.98 L217.44 80.79 L217.75 80.61 L218.06 80.42 L218.37 80.23 L218.68 80.04 L218.99 79.85 L219.30 79.66 L219.61 79.47 L219.92 79.28 L220.23 79.09 L220.54 78.90 L220.86 78.71 L221.17 78.52 L221.48 78.33 L221.79 78.15 L222.10 77.96 L222.41 77.78 L222.72 77.59 L223.03 77.41 L223.34 77.24 L223.65 77.06 L223.97 76.89 L224.28 76.71 L224.59 76.55 L224.90 76.38 L225.21 76.22 L225.52 76.06 L225.83 75.90 L226.14 75.75 L226.45 75.61 L226.76 75.46 L227.07 75.33 L227.39 75.20 L227.70 75.07 L228.01 74.96 L228.32 74.84 L228.63 74.74 L228.94 74.64 L229.25 74.54 L229.56 74.45 L229.87 74.37 L230.18 74.29 L230.49 74.22 L230.81 74.15 L231.12 74.09 L231.43 74.04 L231.74 73.99 L232.05 73.94 L232.36 73.90 L232.67 73.86 L232.98 73.83 L233.29 73.80 L233.60 73.78 L233.92 73.76 L234.23 73.74 L234.54 73.74 L234.85 73.73 L235.16 73.73 L235.47 73.74 L235.78 73.75 L236.09 73.75 L236.40 73.76 L236.71 73.77 L237.02 73.78 L237.34 73.80 L237.65 73.81 L237.96 73.83 L238.27 73.86 L238.58 73.89 L238.89 73.92 L239.20 73.96 L239.51 73.99 L239.82 74.03 L240.13 74.07 L240.45 74.11 L240.76 74.15 L241.07 74.20 L241.38 74.25 L241.69 74.30 L242.00 74.35 L242.31 74.41 L242.62 74.47 L242.93 74.54 L243.24 74.61 L243.55 74.68 L243.87 74.76 L244.18 74.83 L244.49 74.92 L244.80 75.00 L245.11 75.09 L245.42 75.18 L245.73 75.27 L246.04 75.37 L246.35 75.47 L246.66 75.57 L246.97 75.68 L247.29 75.79 L247.60 75.90 L247.91 76.02 L248.22 76.15 L248.53 76.27 L248.84 76.40 L249.15 76.53 L249.46 76.66 L249.77 76.80 L250.08 76.94 L250.40 77.08 L250.71 77.22 L251.02 77.37 L251.33 77.53 L251.64 77.69 L251.95 77.85 L252.26 78.03 L252.57 78.21 L252.88 78.40 L253.19 78.59 L253.50 78.80 L253.82 79.01 L254.13 79.24 L254.44 79.47 L254.75 79.72 L255.06 79.97 L255.37 80.24 L255.68 80.52 L255.99 80.81 L256.30 81.10 L256.61 81.41 L256.93 81.72 L257.24 82.05 L257.55 82.38 L257.86 82.71 L258.17 83.05 L258.48 83.40 L258.79 83.75 L259.10 84.11 L259.41 84.47 L259.72 84.84 L260.03 85.21 L260.35 85.58 L260.66 85.95 L260.97 86.32 L261.28 86.70 L261.59 87.07 L261.90 87.44 L262.21 87.81 L262.52 88.18 L262.83 88.54 L263.14 88.90 L263.45 89.26 L263.77 89.62 L264.08 89.98 L264.39 90.33 L264.70 90.69 L265.01 91.04 L265.32 91.39 L265.63 91.73 L265.94 92.08 L266.25 92.42 L266.56 92.76 L266.88 93.10 L267.19 93.44 L267.50 93.77 L267.81 94.11 L268.12 94.44 L268.43 94.77 L268.74 95.09 L269.05 95.42 L269.36 95.74 L269.67 96.07 L269.98 96.39 L270.30 96.72 L270.61 97.04 L270.92 97.36 L271.23 97.68 L271.54 97.99 L271.85 98.31 L272.16 98.62 L272.47 98.93 L272.78 99.24 L273.09 99.54 L273.41 99.84 L273.72 100.13 L274.03 100.43 L274.34 100.71 L274.65 101.00 L274.96 101.28 L275.27 101.55 L275.58 101.83 L275.89 102.09 L276.20 102.36 L276.51 102.62 L276.83 102.87 L277.14 103.13 L277.45 103.38 L277.76 103.63 L278.07 103.87 L278.38 104.11 L278.69 104.35 L279.00 104.58 L279.31 104.81 L279.62 105.04 L279.93 105.26 L280.25 105.49 L280.56 105.70 L280.87 105.92 L281.18 106.13 L281.49 106.33 L281.80 106.54 L282.11 106.74 L282.42 106.93 L282.73 107.13 L283.04 107.32 L283.36 107.50 L283.67 107.69 L283.98 107.86 L284.29 108.04 L284.60 108.22 L284.91 108.39 L285.22 108.55 L285.53 108.72 L285.84 108.88 L286.15 109.04 L286.46 109.20 L286.78 109.35 L287.09 109.50 L287.40 109.65 L287.71 109.79 L288.02 109.94 L288.33 110.08 L288.64 110.22 L288.95 110.35 L289.26 110.49 L289.57 110.62 L289.89 110.75 L290.20 110.88 L290.51 111.01 L290.82 111.14 L291.13 111.26 L291.44 111.39 L291.75 111.51 L292.06 111.63 L292.37 111.75 L292.68 111.87 L292.99 111.98 L293.31 112.10 L293.62 112.21 L293.93 112.33 L294.24 112.44 L294.55 112.56 L294.86 112.67 L295.17 112.78 L295.48 112.90 L295.79 113.01 L296.10 113.12 L296.41 113.23 L296.73 113.34 L297.04 113.45 L297.35 113.56 L297.66 113.66 L297.97 113.77 L298.28 113.87 L298.59 113.97 L298.90 114.07 L299.21 114.17 L299.52 114.27 L299.84 114.36 L300.15 114.46 L300.46 114.55 L300.77 114.63 L301.08 114.72 L301.39 114.80 L301.70 114.87 L302.01 114.95 L302.32 115.02 L302.63 115.09 L302.94 115.15 L303.26 115.21 L303.57 115.27 L303.88 115.33 L304.19 115.39 L304.50 115.44 L304.81 115.50 L305.12 115.55 L305.43 115.60 L305.74 115.64 L306.05 115.69 L306.37 115.74 L306.68 115.78 L306.99 115.82 L307.30 115.87 L307.61 115.91 L307.92 115.95 L308.23 116.00 L308.54 116.04 L308.85 116.08 L309.16 116.12 L309.47 116.16 L309.79 116.20 L310.10 116.24 L310.41 116.27 L310.72 116.31 L311.03 116.35 L311.34 116.38 L311.65 116.41 L311.96 116.45 L312.27 116.48 L312.58 116.51 L312.89 116.54 L313.21 116.56 L313.52 116.59 L313.83 116.61 L314.14 116.64 L314.45 116.66 L314.76 116.69 L315.07 116.71 L315.38 116.73 L315.69 116.75 L316.00 116.76 L316.32 116.78 L316.63 116.79 L316.94 116.79 L317.25 116.80 L317.56 116.80 L317.87 116.80 L318.18 116.80 L318.49 116.80 L318.80 116.81 L319.11 116.80 L319.42 116.80 L319.74 116.80 L320.05 116.79 L320.36 116.78 L320.67 116.76 L320.98 116.74 L321.29 116.72 L321.60 116.70 L321.91 116.67 L322.22 116.65 L322.53 116.62 L322.85 116.59 L323.16 116.55 L323.47 116.52 L323.78 116.49 L324.09 116.45 L324.40 116.41 L324.71 116.37 L325.02 116.33 L325.33 116.28 L325.64 116.24 L325.95 116.20 L326.27 116.15 L326.58 116.10 L326.89 116.05 L327.20 116.00 L327.51 115.95 L327.82 115.90 L328.13 115.85 L328.44 115.79 L328.75 115.74 L329.06 115.69 L329.37 115.63 L329.69 115.58 L330.00 115.52 L330.31 115.47 L330.62 115.41 L330.93 115.35 L331.24 115.29 L331.55 115.23 L331.86 115.16 L332.17 115.10 L332.48 115.03 L332.80 114.96 L333.11 114.88 L333.42 114.81 L333.73 114.73 L334.04 114.65 L334.35 114.56 L334.66 114.47 L334.97 114.38 L335.28 114.29 L335.59 114.19 L335.90 114.10 L336.22 113.99 L336.53 113.89 L336.84 113.79 L337.15 113.68 L337.46 113.58 L337.77 113.47 L338.08 113.36 L338.39 113.26 L338.70 113.15 L339.01 113.05 L339.33 112.95 L339.64 112.85 L339.95 112.75 L340.26 112.65 L340.57 112.55 L340.88 112.45 L341.19 112.35 L341.50 112.25 L341.81 112.15 L342.12 112.06 L342.43 111.96 L342.75 111.86 L343.06 111.77 L343.37 111.67 L343.68 111.57 L343.99 111.48 L344.30 111.38 L344.61 111.28 L344.92 111.18 L345.23 111.09 L345.54 110.99 L345.85 110.90 L346.17 110.81 L346.48 110.72 L346.79 110.64 L347.10 110.56 L347.41 110.49 L347.72 110.42 L348.03 110.36 L348.34 110.31 L348.65 110.26 L348.96 110.22 L349.28 110.19 L349.59 110.16 L349.90 110.14 L350.21 110.11 L350.52 110.10 L350.83 110.08 L351.14 110.08 L351.45 110.07 L351.76 110.06 L352.07 110.06 L352.38 110.06 L352.70 110.06 L353.01 110.07 L353.32 110.07 L353.63 110.08 L353.94 110.08 L354.25 110.09 L354.56 110.10 L354.87 110.11 L355.18 110.13 L355.49 110.15 L355.81 110.17 L356.12 110.20 L356.43 110.23 L356.74 110.28 L357.05 110.32 L357.36 110.38 L357.67 110.45 L357.98 110.52 L358.29 110.61 L358.60 110.71 L358.91 110.82 L359.23 110.95 L359.54 111.09 L359.85 111.25 L360.16 111.41 L360.47 111.58 L360.78 111.77 L361.09 111.96 L361.40 112.15 L361.71 112.35 L362.02 112.55 L362.33 112.76 L362.65 112.97 L362.96 113.18 L363.27 113.40 L363.58 113.62 L363.89 113.84 L364.20 114.06 L364.51 114.29 L364.82 114.51 L365.13 114.73 L365.44 114.96 L365.76 115.18 L366.07 115.40 L366.38 115.63 L366.69 115.86 L367.00 116.09 L367.31 116.32 L367.62 116.56 L367.93 116.80 L368.24 117.04 L368.55 117.29 L368.86 117.53 L369.18 117.78 L369.49 118.03 L369.80 118.28 L370.11 118.53 L370.42 118.78 L370.73 119.03 L371.04 119.28 L371.35 119.53 L371.66 119.78 L371.97 120.02 L372.29 120.27 L372.60 120.51 L372.91 120.76 L373.22 121.00 L373.53 121.24 L373.84 121.47 L374.15 121.71 L374.46 121.94 L374.77 122.17 L375.08 122.40 L375.39 122.63 L375.71 122.86 L376.02 123.08 L376.33 123.31 L376.64 123.53 L376.95 123.76 L377.26 123.98 L377.57 124.20 L377.88 124.42 L378.19 124.64 L378.50 124.86 L378.81 125.07 L379.13 125.29 L379.44 125.50 L379.75 125.72 L380.06 125.93 L380.37 126.14 L380.68 126.35 L380.99 126.56 L381.30 126.76 L381.61 126.97 L381.92 127.17 L382.24 127.37 L382.55 127.57 L382.86 127.77 L383.17 127.97 L383.48 128.16 L383.79 128.36 L384.10 128.55 L384.41 128.74 L384.72 128.93 L385.03 129.11 L385.34 129.30 L385.66 129.48 L385.97 129.66 L386.28 129.84 L386.59 130.02 L386.90 130.19 L387.21 130.37 L387.52 130.54 L387.83 130.71 L388.14 130.88 L388.45 131.05 L388.77 131.22 L389.08 131.39 L389.39 131.55 L389.70 131.71 L390.01 131.87 L390.32 132.03 L390.63 132.19 L390.94 132.35 L391.25 132.50 L391.56 132.66 L391.87 132.81 L392.19 132.97 L392.50 133.12 L392.81 133.27 L393.12 133.41 L393.43 133.56 L393.74 133.71" stroke="#00f24c" stroke-width="2.2" stroke-dasharray="7.6 3.6 2 3.6"/>
<path d="M83.11 118.92 L83.42 118.77 L83.73 118.61 L84.04 118.46 L84.35 118.32 L84.66 118.18 L84.97 118.05 L85.28 117.92 L85.60 117.80 L85.91 117.68 L86.22 117.57 L86.53 117.46 L86.84 117.35 L87.15 117.24 L87.46 117.14 L87.77 117.05 L88.08 116.95 L88.39 116.86 L88.70 116.77 L89.02 116.68 L89.33 116.59 L89.64 116.51 L89.95 116.42 L90.26 116.34 L90.57 116.26 L90.88 116.18 L91.19 116.09 L91.50 116.01 L91.81 115.92 L92.13 115.83 L92.44 115.73 L92.75 115.62 L93.06 115.51 L93.37 115.39 L93.68 115.26 L93.99 115.12 L94.30 114.98 L94.61 114.83 L94.92 114.68 L95.23 114.52 L95.55 114.35 L95.86 114.18 L96.17 114.00 L96.48 113.82 L96.79 113.64 L97.10 113.45 L97.41 113.25 L97.72 113.06 L98.03 112.86 L98.34 112.66 L98.65 112.45 L98.97 112.25 L99.28 112.03 L99.59 111.82 L99.90 111.59 L100.21 111.36 L100.52 111.12 L100.83 110.88 L101.14 110.63 L101.45 110.37 L101.76 110.12 L102.08 109.85 L102.39 109.59 L102.70 109.32 L103.01 109.04 L103.32 108.76 L103.63 108.48 L103.94 108.20 L104.25 107.91 L104.56 107.62 L104.87 107.33 L105.18 107.05 L105.50 106.77 L105.81 106.50 L106.12 106.24 L106.43 105.98 L106.74 105.73 L107.05 105.48 L107.36 105.25 L107.67 105.02 L107.98 104.79 L108.29 104.57 L108.61 104.36 L108.92 104.15 L109.23 103.95 L109.54 103.76 L109.85 103.57 L110.16 103.38 L110.47 103.21 L110.78 103.03 L111.09 102.87 L111.40 102.71 L111.71 102.55 L112.03 102.41 L112.34 102.27 L112.65 102.14 L112.96 102.02 L113.27 101.91 L113.58 101.81 L113.89 101.71 L114.20 101.62 L114.51 101.53 L114.82 101.44 L115.13 101.34 L115.45 101.24 L115.76 101.15 L116.07 101.05 L116.38 100.95 L116.69 100.86 L117.00 100.76 L117.31 100.68 L117.62 100.59 L117.93 100.51 L118.24 100.43 L118.56 100.35 L118.87 100.28 L119.18 100.20 L119.49 100.13 L119.80 100.06 L120.11 100.00 L120.42 99.94 L120.73 99.88 L121.04 99.82 L121.35 99.77 L121.66 99.71 L121.98 99.66 L122.29 99.61 L122.60 99.56 L122.91 99.51 L123.22 99.46 L123.53 99.41 L123.84 99.36 L124.15 99.31 L124.46 99.27 L124.77 99.22 L125.09 99.18 L125.40 99.13 L125.71 99.08 L126.02 99.04 L126.33 98.99 L126.64 98.94 L126.95 98.89 L127.26 98.85 L127.57 98.80 L127.88 98.76 L128.19 98.72 L128.51 98.69 L128.82 98.65 L129.13 98.62 L129.44 98.60 L129.75 98.57 L130.06 98.55 L130.37 98.53 L130.68 98.51 L130.99 98.50 L131.30 98.48 L131.61 98.47 L131.93 98.47 L132.24 98.46 L132.55 98.46 L132.86 98.46 L133.17 98.45 L133.48 98.45 L133.79 98.44 L134.10 98.43 L134.41 98.42 L134.72 98.41 L135.04 98.40 L135.35 98.38 L135.66 98.37 L135.97 98.35 L136.28 98.33 L136.59 98.30 L136.90 98.26 L137.21 98.21 L137.52 98.16 L137.83 98.09 L138.14 98.02 L138.46 97.95 L138.77 97.87 L139.08 97.79 L139.39 97.71 L139.70 97.63 L140.01 97.55 L140.32 97.47 L140.63 97.39 L140.94 97.32 L141.25 97.24 L141.57 97.16 L141.88 97.08 L142.19 97.01 L142.50 96.93 L142.81 96.85 L143.12 96.78 L143.43 96.71 L143.74 96.64 L144.05 96.57 L144.36 96.51 L144.67 96.44 L144.99 96.39 L145.30 96.33 L145.61 96.28 L145.92 96.24 L146.23 96.19 L146.54 96.15 L146.85 96.11 L147.16 96.07 L147.47 96.03 L147.78 96.00 L148.09 95.96 L148.41 95.93 L148.72 95.90 L149.03 95.87 L149.34 95.84 L149.65 95.81 L149.96 95.79 L150.27 95.76 L150.58 95.74 L150.89 95.72 L151.20 95.70 L151.52 95.68 L151.83 95.66 L152.14 95.64 L152.45 95.62 L152.76 95.60 L153.07 95.58 L153.38 95.55 L153.69 95.53 L154.00 95.50 L154.31 95.48 L154.62 95.45 L154.94 95.42 L155.25 95.39 L155.56 95.36 L155.87 95.33 L156.18 95.29 L156.49 95.26 L156.80 95.22 L157.11 95.19 L157.42 95.16 L157.73 95.12 L158.05 95.09 L158.36 95.06 L158.67 95.03 L158.98 95.00 L159.29 94.97 L159.60 94.95 L159.91 94.93 L160.22 94.91 L160.53 94.89 L160.84 94.88 L161.15 94.86 L161.47 94.84 L161.78 94.81 L162.09 94.78 L162.40 94.75 L162.71 94.72 L163.02 94.69 L163.33 94.65 L163.64 94.62 L163.95 94.58 L164.26 94.55 L164.57 94.51 L164.89 94.48 L165.20 94.44 L165.51 94.41 L165.82 94.37 L166.13 94.33 L166.44 94.30 L166.75 94.26 L167.06 94.23 L167.37 94.20 L167.68 94.17 L168.00 94.14 L168.31 94.11 L168.62 94.08 L168.93 94.06 L169.24 94.03 L169.55 94.01 L169.86 93.98 L170.17 93.96 L170.48 93.93 L170.79 93.90 L171.10 93.87 L171.42 93.84 L171.73 93.80 L172.04 93.78 L172.35 93.75 L172.66 93.73 L172.97 93.72 L173.28 93.72 L173.59 93.72 L173.90 93.72 L174.21 93.73 L174.53 93.73 L174.84 93.73 L175.15 93.74 L175.46 93.74 L175.77 93.75 L176.08 93.77 L176.39 93.79 L176.70 93.82 L177.01 93.86 L177.32 93.91 L177.63 93.97 L177.95 94.03 L178.26 94.10 L178.57 94.17 L178.88 94.24 L179.19 94.32 L179.50 94.40 L179.81 94.49 L180.12 94.59 L180.43 94.70 L180.74 94.81 L181.05 94.93 L181.37 95.06 L181.68 95.19 L181.99 95.33 L182.30 95.47 L182.61 95.62 L182.92 95.77 L183.23 95.93 L183.54 96.08 L183.85 96.24 L184.16 96.40 L184.48 96.56 L184.79 96.72 L185.10 96.88 L185.41 97.04 L185.72 97.20 L186.03 97.36 L186.34 97.52 L186.65 97.68 L186.96 97.84 L187.27 98.00 L187.58 98.16 L187.90 98.30 L188.21 98.45 L188.52 98.58 L188.83 98.70 L189.14 98.80 L189.45 98.89 L189.76 98.96 L190.07 99.00 L190.38 99.04 L190.69 99.06 L191.01 99.08 L191.32 99.10 L191.63 99.11 L191.94 99.12 L192.25 99.13 L192.56 99.14 L192.87 99.13 L193.18 99.12 L193.49 99.09 L193.80 99.05 L194.11 99.00 L194.43 98.94 L194.74 98.86 L195.05 98.78 L195.36 98.68 L195.67 98.57 L195.98 98.46 L196.29 98.33 L196.60 98.19 L196.91 98.04 L197.22 97.89 L197.53 97.73 L197.85 97.56 L198.16 97.39 L198.47 97.22 L198.78 97.05 L199.09 96.88 L199.40 96.72 L199.71 96.55 L200.02 96.39 L200.33 96.22 L200.64 96.06 L200.96 95.89 L201.27 95.72 L201.58 95.54 L201.89 95.36 L202.20 95.18 L202.51 94.99 L202.82 94.80 L203.13 94.60 L203.44 94.40 L203.75 94.19 L204.06 93.98 L204.38 93.76 L204.69 93.54 L205.00 93.31 L205.31 93.09 L205.62 92.86 L205.93 92.63 L206.24 92.39 L206.55 92.16 L206.86 91.94 L207.17 91.71 L207.49 91.48 L207.80 91.26 L208.11 91.05 L208.42 90.83 L208.73 90.62 L209.04 90.41 L209.35 90.21 L209.66 90.01 L209.97 89.81 L210.28 89.61 L210.59 89.41 L210.91 89.21 L211.22 89.02 L211.53 88.82 L211.84 88.62 L212.15 88.43 L212.46 88.23 L212.77 88.03 L213.08 87.83 L213.39 87.64 L213.70 87.44 L214.01 87.24 L214.33 87.04 L214.64 86.84 L214.95 86.64 L215.26 86.44 L215.57 86.24 L215.88 86.04 L216.19 85.84 L216.50 85.64 L216.81 85.43 L217.12 85.23 L217.44 85.03 L217.75 84.82 L218.06 84.62 L218.37 84.41 L218.68 84.21 L218.99 84.00 L219.30 83.79 L219.61 83.58 L219.92 83.37 L220.23 83.16 L220.54 82.95 L220.86 82.74 L221.17 82.53 L221.48 82.33 L221.79 82.12 L222.10 81.91 L222.41 81.70 L222.72 81.49 L223.03 81.29 L223.34 81.08 L223.65 80.88 L223.97 80.68 L224.28 80.48 L224.59 80.28 L224.90 80.09 L225.21 79.90 L225.52 79.71 L225.83 79.52 L226.14 79.34 L226.45 79.16 L226.76 78.99 L227.07 78.82 L227.39 78.66 L227.70 78.51 L228.01 78.36 L228.32 78.22 L228.63 78.08 L228.94 77.95 L229.25 77.82 L229.56 77.71 L229.87 77.59 L230.18 77.49 L230.49 77.39 L230.81 77.30 L231.12 77.22 L231.43 77.14 L231.74 77.06 L232.05 77.00 L232.36 76.93 L232.67 76.88 L232.98 76.82 L233.29 76.77 L233.60 76.73 L233.92 76.70 L234.23 76.68 L234.54 76.66 L234.85 76.66 L235.16 76.66 L235.47 76.66 L235.78 76.67 L236.09 76.68 L236.40 76.68 L236.71 76.69 L237.02 76.70 L237.34 76.71 L237.65 76.73 L237.96 76.75 L238.27 76.78 L238.58 76.81 L238.89 76.86 L239.20 76.90 L239.51 76.95 L239.82 77.00 L240.13 77.05 L240.45 77.10 L240.76 77.15 L241.07 77.20 L241.38 77.26 L241.69 77.32 L242.00 77.38 L242.31 77.45 L242.62 77.52 L242.93 77.60 L243.24 77.68 L243.55 77.76 L243.87 77.85 L244.18 77.93 L244.49 78.02 L244.80 78.12 L245.11 78.21 L245.42 78.31 L245.73 78.40 L246.04 78.50 L246.35 78.61 L246.66 78.71 L246.97 78.82 L247.29 78.93 L247.60 79.05 L247.91 79.16 L248.22 79.28 L248.53 79.40 L248.84 79.52 L249.15 79.64 L249.46 79.76 L249.77 79.88 L250.08 80.00 L250.40 80.13 L250.71 80.25 L251.02 80.38 L251.33 80.52 L251.64 80.65 L251.95 80.80 L252.26 80.95 L252.57 81.11 L252.88 81.27 L253.19 81.44 L253.50 81.62 L253.82 81.81 L254.13 82.02 L254.44 82.23 L254.75 82.45 L255.06 82.69 L255.37 82.95 L255.68 83.21 L255.99 83.49 L256.30 83.77 L256.61 84.07 L256.93 84.37 L257.24 84.69 L257.55 85.01 L257.86 85.34 L258.17 85.68 L258.48 86.02 L258.79 86.37 L259.10 86.73 L259.41 87.08 L259.72 87.45 L260.03 87.81 L260.35 88.18 L260.66 88.54 L260.97 88.91 L261.28 89.28 L261.59 89.65 L261.90 90.02 L262.21 90.38 L262.52 90.74 L262.83 91.10 L263.14 91.45 L263.45 91.81 L263.77 92.16 L264.08 92.50 L264.39 92.85 L264.70 93.20 L265.01 93.54 L265.32 93.88 L265.63 94.22 L265.94 94.55 L266.25 94.89 L266.56 95.22 L266.88 95.55 L267.19 95.88 L267.50 96.20 L267.81 96.53 L268.12 96.85 L268.43 97.17 L268.74 97.48 L269.05 97.80 L269.36 98.11 L269.67 98.43 L269.98 98.74 L270.30 99.05 L270.61 99.36 L270.92 99.67 L271.23 99.98 L271.54 100.28 L271.85 100.59 L272.16 100.88 L272.47 101.18 L272.78 101.47 L273.09 101.76 L273.41 102.05 L273.72 102.33 L274.03 102.61 L274.34 102.88 L274.65 103.15 L274.96 103.42 L275.27 103.68 L275.58 103.93 L275.89 104.19 L276.20 104.43 L276.51 104.68 L276.83 104.92 L277.14 105.16 L277.45 105.39 L277.76 105.63 L278.07 105.85 L278.38 106.08 L278.69 106.30 L279.00 106.52 L279.31 106.74 L279.62 106.95 L279.93 107.16 L280.25 107.36 L280.56 107.57 L280.87 107.76 L281.18 107.96 L281.49 108.15 L281.80 108.34 L282.11 108.53 L282.42 108.71 L282.73 108.89 L283.04 109.07 L283.36 109.24 L283.67 109.41 L283.98 109.58 L284.29 109.74 L284.60 109.90 L284.91 110.06 L285.22 110.22 L285.53 110.37 L285.84 110.53 L286.15 110.68 L286.46 110.82 L286.78 110.97 L287.09 111.11 L287.40 111.25 L287.71 111.39 L288.02 111.52 L288.33 111.66 L288.64 111.79 L288.95 111.92 L289.26 112.04 L289.57 112.17 L289.89 112.30 L290.20 112.42 L290.51 112.54 L290.82 112.66 L291.13 112.78 L291.44 112.89 L291.75 113.01 L292.06 113.12 L292.37 113.24 L292.68 113.35 L292.99 113.46 L293.31 113.57 L293.62 113.68 L293.93 113.79 L294.24 113.90 L294.55 114.01 L294.86 114.11 L295.17 114.22 L295.48 114.33 L295.79 114.44 L296.10 114.54 L296.41 114.65 L296.73 114.75 L297.04 114.85 L297.35 114.96 L297.66 115.06 L297.97 115.16 L298.28 115.26 L298.59 115.35 L298.90 115.45 L299.21 115.54 L299.52 115.64 L299.84 115.73 L300.15 115.82 L300.46 115.90 L300.77 115.99 L301.08 116.07 L301.39 116.14 L301.70 116.22 L302.01 116.29 L302.32 116.36 L302.63 116.42 L302.94 116.48 L303.26 116.54 L303.57 116.60 L303.88 116.66 L304.19 116.71 L304.50 116.77 L304.81 116.82 L305.12 116.87 L305.43 116.91 L305.74 116.96 L306.05 117.01 L306.37 117.05 L306.68 117.10 L306.99 117.14 L307.30 117.19 L307.61 117.23 L307.92 117.28 L308.23 117.32 L308.54 117.36 L308.85 117.41 L309.16 117.45 L309.47 117.49 L309.79 117.53 L310.10 117.58 L310.41 117.62 L310.72 117.66 L311.03 117.70 L311.34 117.74 L311.65 117.77 L311.96 117.81 L312.27 117.85 L312.58 117.88 L312.89 117.92 L313.21 117.95 L313.52 117.98 L313.83 118.01 L314.14 118.04 L314.45 118.07 L314.76 118.10 L315.07 118.13 L315.38 118.16 L315.69 118.18 L316.00 118.20 L316.32 118.22 L316.63 118.24 L316.94 118.26 L317.25 118.27 L317.56 118.28 L317.87 118.29 L318.18 118.30 L318.49 118.30 L318.80 118.31 L319.11 118.31 L319.42 118.31 L319.74 118.31 L320.05 118.30 L320.36 118.30 L320.67 118.29 L320.98 118.27 L321.29 118.26 L321.60 118.24 L321.91 118.22 L322.22 118.20 L322.53 118.17 L322.85 118.15 L323.16 118.12 L323.47 118.09 L323.78 118.05 L324.09 118.02 L324.40 117.98 L324.71 117.94 L325.02 117.90 L325.33 117.86 L325.64 117.81 L325.95 117.77 L326.27 117.72 L326.58 117.67 L326.89 117.62 L327.20 117.57 L327.51 117.52 L327.82 117.47 L328.13 117.41 L328.44 117.36 L328.75 117.30 L329.06 117.25 L329.37 117.19 L329.69 117.13 L330.00 117.07 L330.31 117.01 L330.62 116.95 L330.93 116.89 L331.24 116.82 L331.55 116.76 L331.86 116.69 L332.17 116.62 L332.48 116.54 L332.80 116.47 L333.11 116.39 L333.42 116.31 L333.73 116.22 L334.04 116.14 L334.35 116.05 L334.66 115.95 L334.97 115.86 L335.28 115.76 L335.59 115.65 L335.90 115.55 L336.22 115.44 L336.53 115.33 L336.84 115.22 L337.15 115.11 L337.46 115.00 L337.77 114.88 L338.08 114.77 L338.39 114.66 L338.70 114.54 L339.01 114.43 L339.33 114.32 L339.64 114.21 L339.95 114.11 L340.26 114.00 L340.57 113.89 L340.88 113.78 L341.19 113.67 L341.50 113.57 L341.81 113.46 L342.12 113.35 L342.43 113.24 L342.75 113.13 L343.06 113.03 L343.37 112.92 L343.68 112.81 L343.99 112.70 L344.30 112.59 L344.61 112.47 L344.92 112.36 L345.23 112.25 L345.54 112.13 L345.85 112.02 L346.17 111.91 L346.48 111.81 L346.79 111.70 L347.10 111.61 L347.41 111.51 L347.72 111.42 L348.03 111.34 L348.34 111.26 L348.65 111.19 L348.96 111.13 L349.28 111.07 L349.59 111.01 L349.90 110.96 L350.21 110.92 L350.52 110.88 L350.83 110.85 L351.14 110.81 L351.45 110.79 L351.76 110.76 L352.07 110.74 L352.38 110.72 L352.70 110.71 L353.01 110.70 L353.32 110.69 L353.63 110.68 L353.94 110.68 L354.25 110.68 L354.56 110.69 L354.87 110.69 L355.18 110.70 L355.49 110.72 L355.81 110.74 L356.12 110.76 L356.43 110.78 L356.74 110.82 L357.05 110.86 L357.36 110.91 L357.67 110.98 L357.98 111.05 L358.29 111.14 L358.60 111.24 L358.91 111.35 L359.23 111.48 L359.54 111.62 L359.85 111.77 L360.16 111.94 L360.47 112.11 L360.78 112.30 L361.09 112.48 L361.40 112.68 L361.71 112.88 L362.02 113.08 L362.33 113.29 L362.65 113.50 L362.96 113.72 L363.27 113.94 L363.58 114.16 L363.89 114.38 L364.20 114.61 L364.51 114.83 L364.82 115.05 L365.13 115.28 L365.44 115.50 L365.76 115.73 L366.07 115.95 L366.38 116.18 L366.69 116.40 L367.00 116.63 L367.31 116.87 L367.62 117.10 L367.93 117.34 L368.24 117.57 L368.55 117.81 L368.86 118.06 L369.18 118.30 L369.49 118.54 L369.80 118.79 L370.11 119.03 L370.42 119.28 L370.73 119.52 L371.04 119.77 L371.35 120.01 L371.66 120.25 L371.97 120.49 L372.29 120.73 L372.60 120.97 L372.91 121.21 L373.22 121.44 L373.53 121.68 L373.84 121.91 L374.15 122.14 L374.46 122.37 L374.77 122.59 L375.08 122.82 L375.39 123.04 L375.71 123.26 L376.02 123.48 L376.33 123.70 L376.64 123.92 L376.95 124.14 L377.26 124.36 L377.57 124.58 L377.88 124.79 L378.19 125.01 L378.50 125.22 L378.81 125.43 L379.13 125.65 L379.44 125.86 L379.75 126.07 L380.06 126.27 L380.37 126.48 L380.68 126.69 L380.99 126.89 L381.30 127.10 L381.61 127.30 L381.92 127.50 L382.24 127.70 L382.55 127.89 L382.86 128.09 L383.17 128.28 L383.48 128.48 L383.79 128.67 L384.10 128.85 L384.41 129.04 L384.72 129.23 L385.03 129.41 L385.34 129.59 L385.66 129.77 L385.97 129.95 L386.28 130.13 L386.59 130.31 L386.90 130.48 L387.21 130.65 L387.52 130.82 L387.83 130.99 L388.14 131.16 L388.45 131.33 L388.77 131.50 L389.08 131.66 L389.39 131.82 L389.70 131.98 L390.01 132.14 L390.32 132.30 L390.63 132.46 L390.94 132.62 L391.25 132.77 L391.56 132.93 L391.87 133.08 L392.19 133.23 L392.50 133.38 L392.81 133.53 L393.12 133.68 L393.43 133.83 L393.74 133.97" stroke="#0070ff" stroke-width="2.2" stroke-dasharray="7.65 7.3"/>
</g>
<clipPath id="cr"><rect x="459.6" y="0.5" width="331.1" height="262.9"/></clipPath>
<g clip-path="url(#cr)" fill="none" stroke-linejoin="round">
<path d="M460.60 110.19 L461.42 109.93 L462.25 109.76 L463.07 109.68 L463.89 109.65 L464.71 109.65 L465.54 109.65 L466.36 109.63 L467.18 109.61 L468.00 109.61 L468.83 109.63 L469.65 109.70 L470.47 109.83 L471.30 110.03 L472.12 110.30 L472.94 110.62 L473.76 110.96 L474.59 111.32 L475.41 111.66 L476.23 111.99 L477.06 112.30 L477.88 112.59 L478.70 112.87 L479.52 113.14 L480.35 113.41 L481.17 113.67 L481.99 113.94 L482.81 114.20 L483.64 114.46 L484.46 114.71 L485.28 114.96 L486.11 115.21 L486.93 115.44 L487.75 115.65 L488.57 115.83 L489.40 115.97 L490.22 116.07 L491.04 116.11 L491.86 116.08 L492.69 116.00 L493.51 115.84 L494.33 115.61 L495.16 115.31 L495.98 114.92 L496.80 114.44 L497.62 113.89 L498.45 113.26 L499.27 112.55 L500.09 111.76 L500.91 110.90 L501.74 109.97 L502.56 108.99 L503.38 107.95 L504.21 106.88 L505.03 105.77 L505.85 104.64 L506.67 103.50 L507.50 102.34 L508.32 101.19 L509.14 100.04 L509.97 98.90 L510.79 97.78 L511.61 96.68 L512.43 95.61 L513.26 94.57 L514.08 93.57 L514.90 92.62 L515.72 91.71 L516.55 90.84 L517.37 90.01 L518.19 89.21 L519.02 88.44 L519.84 87.69 L520.66 86.97 L521.48 86.26 L522.31 85.58 L523.13 84.91 L523.95 84.28 L524.77 83.66 L525.60 83.08 L526.42 82.52 L527.24 81.99 L528.07 81.48 L528.89 81.01 L529.71 80.56 L530.53 80.15 L531.36 79.76 L532.18 79.40 L533.00 79.07 L533.82 78.76 L534.65 78.48 L535.47 78.21 L536.29 77.98 L537.12 77.76 L537.94 77.56 L538.76 77.39 L539.58 77.24 L540.41 77.10 L541.23 76.99 L542.05 76.89 L542.88 76.81 L543.70 76.75 L544.52 76.70 L545.34 76.66 L546.17 76.64 L546.99 76.63 L547.81 76.63 L548.63 76.65 L549.46 76.67 L550.28 76.71 L551.10 76.76 L551.93 76.81 L552.75 76.88 L553.57 76.94 L554.39 77.02 L555.22 77.09 L556.04 77.17 L556.86 77.25 L557.68 77.33 L558.51 77.42 L559.33 77.52 L560.15 77.62 L560.98 77.73 L561.80 77.83 L562.62 77.94 L563.44 78.06 L564.27 78.17 L565.09 78.27 L565.91 78.38 L566.73 78.49 L567.56 78.59 L568.38 78.70 L569.20 78.81 L570.03 78.91 L570.85 79.02 L571.67 79.13 L572.49 79.23 L573.32 79.34 L574.14 79.44 L574.96 79.55 L575.79 79.65 L576.61 79.75 L577.43 79.84 L578.25 79.94 L579.08 80.03 L579.90 80.12 L580.72 80.21 L581.54 80.29 L582.37 80.37 L583.19 80.46 L584.01 80.54 L584.84 80.62 L585.66 80.70 L586.48 80.77 L587.30 80.85 L588.13 80.92 L588.95 80.98 L589.77 81.04 L590.59 81.10 L591.42 81.15 L592.24 81.20 L593.06 81.24 L593.89 81.29 L594.71 81.33 L595.53 81.37 L596.35 81.41 L597.18 81.44 L598.00 81.48 L598.82 81.52 L599.64 81.55 L600.47 81.58 L601.29 81.61 L602.11 81.64 L602.94 81.66 L603.76 81.68 L604.58 81.69 L605.40 81.70 L606.23 81.71 L607.05 81.71 L607.87 81.71 L608.70 81.71 L609.52 81.71 L610.34 81.70 L611.16 81.70 L611.99 81.69 L612.81 81.69 L613.63 81.68 L614.45 81.67 L615.28 81.66 L616.10 81.65 L616.92 81.64 L617.75 81.63 L618.57 81.62 L619.39 81.60 L620.21 81.59 L621.04 81.58 L621.86 81.56 L622.68 81.54 L623.50 81.51 L624.33 81.48 L625.15 81.44 L625.97 81.40 L626.80 81.36 L627.62 81.31 L628.44 81.26 L629.26 81.21 L630.09 81.16 L630.91 81.10 L631.73 81.05 L632.55 80.99 L633.38 80.94 L634.20 80.88 L635.02 80.83 L635.85 80.77 L636.67 80.71 L637.49 80.66 L638.31 80.60 L639.14 80.53 L639.96 80.47 L640.78 80.40 L641.61 80.33 L642.43 80.26 L643.25 80.19 L644.07 80.12 L644.90 80.06 L645.72 79.99 L646.54 79.92 L647.36 79.85 L648.19 79.78 L649.01 79.72 L649.83 79.65 L650.66 79.59 L651.48 79.53 L652.30 79.46 L653.12 79.40 L653.95 79.34 L654.77 79.28 L655.59 79.21 L656.41 79.15 L657.24 79.09 L658.06 79.02 L658.88 78.96 L659.71 78.90 L660.53 78.83 L661.35 78.77 L662.17 78.70 L663.00 78.64 L663.82 78.58 L664.64 78.52 L665.46 78.45 L666.29 78.39 L667.11 78.32 L667.93 78.26 L668.76 78.18 L669.58 78.11 L670.40 78.03 L671.22 77.95 L672.05 77.86 L672.87 77.76 L673.69 77.66 L674.52 77.55 L675.34 77.45 L676.16 77.34 L676.98 77.23 L677.81 77.13 L678.63 77.03 L679.45 76.93 L680.27 76.84 L681.10 76.75 L681.92 76.66 L682.74 76.58 L683.57 76.49 L684.39 76.40 L685.21 76.32 L686.03 76.24 L686.86 76.16 L687.68 76.09 L688.50 76.02 L689.32 75.96 L690.15 75.91 L690.97 75.87 L691.79 75.84 L692.62 75.82 L693.44 75.81 L694.26 75.81 L695.08 75.83 L695.91 75.84 L696.73 75.86 L697.55 75.88 L698.37 75.91 L699.20 75.93 L700.02 75.97 L700.84 76.03 L701.67 76.12 L702.49 76.24 L703.31 76.40 L704.13 76.60 L704.96 76.83 L705.78 77.11 L706.60 77.41 L707.43 77.74 L708.25 78.11 L709.07 78.50 L709.89 78.92 L710.72 79.38 L711.54 79.87 L712.36 80.40 L713.18 80.97 L714.01 81.58 L714.83 82.22 L715.65 82.88 L716.48 83.58 L717.30 84.30 L718.12 85.04 L718.94 85.80 L719.77 86.58 L720.59 87.38 L721.41 88.20 L722.23 89.03 L723.06 89.87 L723.88 90.72 L724.70 91.58 L725.53 92.45 L726.35 93.32 L727.17 94.19 L727.99 95.06 L728.82 95.92 L729.64 96.77 L730.46 97.61 L731.28 98.43 L732.11 99.23 L732.93 100.00 L733.75 100.75 L734.58 101.46 L735.40 102.14 L736.22 102.80 L737.04 103.42 L737.87 104.00 L738.69 104.55 L739.51 105.04 L740.34 105.49 L741.16 105.88 L741.98 106.20 L742.80 106.45 L743.63 106.65 L744.45 106.79 L745.27 106.89 L746.09 106.96 L746.92 107.01 L747.74 107.04 L748.56 107.06 L749.39 107.04 L750.21 106.98 L751.03 106.87 L751.85 106.70 L752.68 106.46 L753.50 106.16 L754.32 105.81 L755.14 105.39 L755.97 104.93 L756.79 104.43 L757.61 103.89 L758.44 103.31 L759.26 102.71 L760.08 102.08 L760.90 101.43 L761.73 100.77 L762.55 100.10 L763.37 99.42 L764.19 98.73 L765.02 98.02 L765.84 97.31 L766.66 96.57 L767.49 95.82 L768.31 95.06 L769.13 94.28 L769.95 93.49 L770.78 92.69 L771.60 91.88 L772.42 91.06 L773.25 90.24 L774.07 89.42 L774.89 88.59 L775.71 87.76 L776.54 86.93 L777.36 86.10 L778.18 85.27 L779.00 84.43 L779.83 83.60 L780.65 82.77 L781.47 81.94 L782.30 81.11 L783.12 80.28 L783.94 79.46 L784.76 78.64 L785.59 77.81 L786.41 76.99 L787.23 76.17 L788.05 75.34 L788.88 74.51 L789.70 73.69" stroke="#000" stroke-width="2.1"/>
<path d="M460.60 155.20 L461.42 154.44 L462.25 153.78 L463.07 153.22 L463.89 152.75 L464.71 152.35 L465.54 152.03 L466.36 151.77 L467.18 151.57 L468.00 151.43 L468.83 151.34 L469.65 151.29 L470.47 151.29 L471.30 151.33 L472.12 151.40 L472.94 151.50 L473.76 151.60 L474.59 151.72 L475.41 151.83 L476.23 151.94 L477.06 152.03 L477.88 152.12 L478.70 152.19 L479.52 152.27 L480.35 152.33 L481.17 152.39 L481.99 152.45 L482.81 152.49 L483.64 152.53 L484.46 152.56 L485.28 152.58 L486.11 152.58 L486.93 152.57 L487.75 152.54 L488.57 152.48 L489.40 152.40 L490.22 152.29 L491.04 152.14 L491.86 151.96 L492.69 151.72 L493.51 151.42 L494.33 151.05 L495.16 150.60 L495.98 150.06 L496.80 149.44 L497.62 148.73 L498.45 147.94 L499.27 147.05 L500.09 146.09 L500.91 145.04 L501.74 143.92 L502.56 142.73 L503.38 141.49 L504.21 140.20 L505.03 138.87 L505.85 137.51 L506.67 136.12 L507.50 134.73 L508.32 133.33 L509.14 131.93 L509.97 130.55 L510.79 129.19 L511.61 127.85 L512.43 126.54 L513.26 125.27 L514.08 124.03 L514.90 122.83 L515.72 121.66 L516.55 120.54 L517.37 119.46 L518.19 118.41 L519.02 117.39 L519.84 116.40 L520.66 115.44 L521.48 114.50 L522.31 113.60 L523.13 112.72 L523.95 111.89 L524.77 111.09 L525.60 110.33 L526.42 109.60 L527.24 108.91 L528.07 108.25 L528.89 107.62 L529.71 107.02 L530.53 106.44 L531.36 105.88 L532.18 105.35 L533.00 104.85 L533.82 104.38 L534.65 103.94 L535.47 103.54 L536.29 103.16 L537.12 102.82 L537.94 102.50 L538.76 102.20 L539.58 101.93 L540.41 101.67 L541.23 101.44 L542.05 101.22 L542.88 101.02 L543.70 100.84 L544.52 100.67 L545.34 100.52 L546.17 100.39 L546.99 100.26 L547.81 100.15 L548.63 100.05 L549.46 99.96 L550.28 99.88 L551.10 99.81 L551.93 99.75 L552.75 99.69 L553.57 99.64 L554.39 99.60 L555.22 99.56 L556.04 99.53 L556.86 99.50 L557.68 99.48 L558.51 99.46 L559.33 99.44 L560.15 99.44 L560.98 99.43 L561.80 99.43 L562.62 99.43 L563.44 99.43 L564.27 99.43 L565.09 99.43 L565.91 99.42 L566.73 99.43 L567.56 99.43 L568.38 99.44 L569.20 99.46 L570.03 99.49 L570.85 99.52 L571.67 99.56 L572.49 99.60 L573.32 99.65 L574.14 99.69 L574.96 99.72 L575.79 99.76 L576.61 99.78 L577.43 99.81 L578.25 99.82 L579.08 99.84 L579.90 99.84 L580.72 99.84 L581.54 99.84 L582.37 99.83 L583.19 99.82 L584.01 99.81 L584.84 99.80 L585.66 99.80 L586.48 99.79 L587.30 99.78 L588.13 99.77 L588.95 99.76 L589.77 99.75 L590.59 99.74 L591.42 99.73 L592.24 99.72 L593.06 99.70 L593.89 99.68 L594.71 99.65 L595.53 99.62 L596.35 99.58 L597.18 99.54 L598.00 99.49 L598.82 99.45 L599.64 99.40 L600.47 99.34 L601.29 99.29 L602.11 99.24 L602.94 99.18 L603.76 99.13 L604.58 99.07 L605.40 99.02 L606.23 98.97 L607.05 98.92 L607.87 98.87 L608.70 98.81 L609.52 98.76 L610.34 98.70 L611.16 98.64 L611.99 98.58 L612.81 98.51 L613.63 98.44 L614.45 98.37 L615.28 98.30 L616.10 98.22 L616.92 98.14 L617.75 98.06 L618.57 97.97 L619.39 97.88 L620.21 97.78 L621.04 97.68 L621.86 97.58 L622.68 97.48 L623.50 97.37 L624.33 97.27 L625.15 97.16 L625.97 97.05 L626.80 96.94 L627.62 96.83 L628.44 96.71 L629.26 96.59 L630.09 96.47 L630.91 96.35 L631.73 96.23 L632.55 96.10 L633.38 95.98 L634.20 95.86 L635.02 95.73 L635.85 95.61 L636.67 95.49 L637.49 95.37 L638.31 95.25 L639.14 95.13 L639.96 95.01 L640.78 94.90 L641.61 94.78 L642.43 94.66 L643.25 94.54 L644.07 94.43 L644.90 94.31 L645.72 94.20 L646.54 94.08 L647.36 93.97 L648.19 93.86 L649.01 93.75 L649.83 93.64 L650.66 93.53 L651.48 93.42 L652.30 93.32 L653.12 93.21 L653.95 93.10 L654.77 93.00 L655.59 92.89 L656.41 92.79 L657.24 92.69 L658.06 92.59 L658.88 92.50 L659.71 92.40 L660.53 92.31 L661.35 92.22 L662.17 92.13 L663.00 92.04 L663.82 91.95 L664.64 91.85 L665.46 91.75 L666.29 91.64 L667.11 91.53 L667.93 91.42 L668.76 91.29 L669.58 91.16 L670.40 91.02 L671.22 90.88 L672.05 90.73 L672.87 90.57 L673.69 90.42 L674.52 90.25 L675.34 90.09 L676.16 89.93 L676.98 89.77 L677.81 89.62 L678.63 89.48 L679.45 89.35 L680.27 89.22 L681.10 89.10 L681.92 88.99 L682.74 88.89 L683.57 88.79 L684.39 88.70 L685.21 88.62 L686.03 88.54 L686.86 88.47 L687.68 88.40 L688.50 88.34 L689.32 88.28 L690.15 88.24 L690.97 88.20 L691.79 88.17 L692.62 88.16 L693.44 88.15 L694.26 88.16 L695.08 88.17 L695.91 88.19 L696.73 88.21 L697.55 88.23 L698.37 88.25 L699.20 88.27 L700.02 88.29 L700.84 88.33 L701.67 88.39 L702.49 88.47 L703.31 88.58 L704.13 88.71 L704.96 88.88 L705.78 89.07 L706.60 89.30 L707.43 89.55 L708.25 89.83 L709.07 90.14 L709.89 90.48 L710.72 90.86 L711.54 91.28 L712.36 91.73 L713.18 92.23 L714.01 92.77 L714.83 93.34 L715.65 93.95 L716.48 94.59 L717.30 95.25 L718.12 95.94 L718.94 96.65 L719.77 97.39 L720.59 98.14 L721.41 98.91 L722.23 99.70 L723.06 100.50 L723.88 101.31 L724.70 102.13 L725.53 102.96 L726.35 103.78 L727.17 104.60 L727.99 105.42 L728.82 106.23 L729.64 107.04 L730.46 107.84 L731.28 108.65 L732.11 109.45 L732.93 110.25 L733.75 111.04 L734.58 111.81 L735.40 112.56 L736.22 113.27 L737.04 113.94 L737.87 114.56 L738.69 115.12 L739.51 115.63 L740.34 116.08 L741.16 116.48 L741.98 116.83 L742.80 117.13 L743.63 117.37 L744.45 117.56 L745.27 117.70 L746.09 117.80 L746.92 117.86 L747.74 117.87 L748.56 117.84 L749.39 117.76 L750.21 117.63 L751.03 117.45 L751.85 117.21 L752.68 116.91 L753.50 116.55 L754.32 116.15 L755.14 115.71 L755.97 115.25 L756.79 114.76 L757.61 114.26 L758.44 113.74 L759.26 113.18 L760.08 112.59 L760.90 111.95 L761.73 111.24 L762.55 110.48 L763.37 109.67 L764.19 108.81 L765.02 107.93 L765.84 107.03 L766.66 106.14 L767.49 105.26 L768.31 104.39 L769.13 103.53 L769.95 102.67 L770.78 101.83 L771.60 100.99 L772.42 100.15 L773.25 99.31 L774.07 98.47 L774.89 97.62 L775.71 96.77 L776.54 95.91 L777.36 95.04 L778.18 94.16 L779.00 93.26 L779.83 92.35 L780.65 91.43 L781.47 90.49 L782.30 89.54 L783.12 88.57 L783.94 87.60 L784.76 86.62 L785.59 85.63 L786.41 84.65 L787.23 83.67 L788.05 82.70 L788.88 81.74 L789.70 80.79" stroke="#ff0000" stroke-width="2.1" stroke-dasharray="2 3.35"/>
<path d="M461.00 125.20 L461.82 124.92 L462.65 124.67 L463.47 124.44 L464.29 124.22 L465.11 124.02 L465.94 123.84 L466.76 123.68 L467.58 123.53 L468.40 123.39 L469.23 123.27 L470.05 123.15 L470.87 123.05 L471.70 122.95 L472.52 122.86 L473.34 122.78 L474.16 122.70 L474.99 122.63 L475.81 122.56 L476.63 122.49 L477.45 122.43 L478.28 122.36 L479.10 122.30 L479.92 122.24 L480.75 122.19 L481.57 122.14 L482.39 122.08 L483.21 122.02 L484.04 121.95 L484.86 121.85 L485.68 121.74 L486.51 121.59 L487.33 121.42 L488.15 121.23 L488.97 121.00 L489.80 120.76 L490.62 120.49 L491.44 120.20 L492.26 119.89 L493.09 119.56 L493.91 119.20 L494.73 118.82 L495.56 118.41 L496.38 117.98 L497.20 117.52 L498.02 117.04 L498.85 116.54 L499.67 116.03 L500.49 115.49 L501.31 114.94 L502.14 114.38 L502.96 113.81 L503.78 113.23 L504.61 112.65 L505.43 112.06 L506.25 111.47 L507.07 110.87 L507.90 110.26 L508.72 109.64 L509.54 108.99 L510.36 108.32 L511.19 107.62 L512.01 106.89 L512.83 106.14 L513.66 105.38 L514.48 104.61 L515.30 103.83 L516.12 103.06 L516.95 102.29 L517.77 101.53 L518.59 100.77 L519.42 100.02 L520.24 99.27 L521.06 98.54 L521.88 97.82 L522.71 97.12 L523.53 96.43 L524.35 95.76 L525.17 95.12 L526.00 94.50 L526.82 93.91 L527.64 93.34 L528.47 92.81 L529.29 92.29 L530.11 91.81 L530.93 91.35 L531.76 90.92 L532.58 90.51 L533.40 90.12 L534.22 89.75 L535.05 89.41 L535.87 89.08 L536.69 88.76 L537.52 88.47 L538.34 88.19 L539.16 87.93 L539.98 87.69 L540.81 87.46 L541.63 87.25 L542.45 87.06 L543.27 86.88 L544.10 86.71 L544.92 86.55 L545.74 86.41 L546.57 86.27 L547.39 86.15 L548.21 86.03 L549.03 85.92 L549.86 85.82 L550.68 85.73 L551.50 85.65 L552.33 85.58 L553.15 85.51 L553.97 85.45 L554.79 85.41 L555.62 85.37 L556.44 85.34 L557.26 85.32 L558.08 85.30 L558.91 85.30 L559.73 85.31 L560.55 85.32 L561.38 85.35 L562.20 85.37 L563.02 85.40 L563.84 85.44 L564.67 85.47 L565.49 85.50 L566.31 85.52 L567.13 85.55 L567.96 85.57 L568.78 85.59 L569.60 85.61 L570.43 85.64 L571.25 85.66 L572.07 85.68 L572.89 85.71 L573.72 85.73 L574.54 85.76 L575.36 85.79 L576.18 85.82 L577.01 85.85 L577.83 85.88 L578.65 85.92 L579.48 85.96 L580.30 86.00 L581.12 86.04 L581.94 86.09 L582.77 86.15 L583.59 86.21 L584.41 86.29 L585.24 86.38 L586.06 86.49 L586.88 86.60 L587.70 86.73 L588.53 86.87 L589.35 87.02 L590.17 87.18 L590.99 87.34 L591.82 87.50 L592.64 87.66 L593.46 87.80 L594.29 87.93 L595.11 88.04 L595.93 88.14 L596.75 88.21 L597.58 88.28 L598.40 88.34 L599.22 88.40 L600.04 88.45 L600.87 88.49 L601.69 88.52 L602.51 88.54 L603.34 88.53 L604.16 88.50 L604.98 88.44 L605.80 88.35 L606.63 88.24 L607.45 88.12 L608.27 87.99 L609.10 87.85 L609.92 87.71 L610.74 87.58 L611.56 87.45 L612.39 87.31 L613.21 87.18 L614.03 87.05 L614.85 86.92 L615.68 86.80 L616.50 86.67 L617.32 86.55 L618.15 86.44 L618.97 86.33 L619.79 86.23 L620.61 86.13 L621.44 86.04 L622.26 85.96 L623.08 85.88 L623.90 85.80 L624.73 85.72 L625.55 85.65 L626.37 85.59 L627.20 85.53 L628.02 85.48 L628.84 85.45 L629.66 85.43 L630.49 85.41 L631.31 85.41 L632.13 85.41 L632.95 85.42 L633.78 85.42 L634.60 85.42 L635.42 85.42 L636.25 85.42 L637.07 85.42 L637.89 85.41 L638.71 85.41 L639.54 85.41 L640.36 85.41 L641.18 85.41 L642.00 85.42 L642.83 85.44 L643.65 85.45 L644.47 85.48 L645.30 85.51 L646.12 85.54 L646.94 85.58 L647.76 85.62 L648.59 85.66 L649.41 85.70 L650.23 85.74 L651.06 85.77 L651.88 85.81 L652.70 85.84 L653.52 85.87 L654.35 85.90 L655.17 85.92 L655.99 85.94 L656.81 85.96 L657.64 85.97 L658.46 85.99 L659.28 86.00 L660.11 86.01 L660.93 86.03 L661.75 86.04 L662.57 86.06 L663.40 86.09 L664.22 86.11 L665.04 86.14 L665.86 86.17 L666.69 86.20 L667.51 86.22 L668.33 86.24 L669.16 86.25 L669.98 86.26 L670.80 86.26 L671.62 86.25 L672.45 86.24 L673.27 86.23 L674.09 86.22 L674.91 86.21 L675.74 86.19 L676.56 86.17 L677.38 86.15 L678.21 86.14 L679.03 86.12 L679.85 86.10 L680.67 86.08 L681.50 86.07 L682.32 86.06 L683.14 86.05 L683.97 86.04 L684.79 86.04 L685.61 86.03 L686.43 86.03 L687.26 86.03 L688.08 86.04 L688.90 86.04 L689.72 86.04 L690.55 86.04 L691.37 86.04 L692.19 86.04 L693.02 86.04 L693.84 86.04 L694.66 86.05 L695.48 86.05 L696.31 86.05 L697.13 86.05 L697.95 86.06 L698.77 86.06 L699.60 86.07 L700.42 86.09 L701.24 86.12 L702.07 86.17 L702.89 86.25 L703.71 86.35 L704.53 86.48 L705.36 86.63 L706.18 86.81 L707.00 87.00 L707.83 87.22 L708.65 87.46 L709.47 87.72 L710.29 88.00 L711.12 88.31 L711.94 88.65 L712.76 89.02 L713.58 89.42 L714.41 89.86 L715.23 90.33 L716.05 90.84 L716.88 91.37 L717.70 91.94 L718.52 92.53 L719.34 93.15 L720.17 93.79 L720.99 94.45 L721.81 95.13 L722.63 95.82 L723.46 96.52 L724.28 97.23 L725.10 97.94 L725.93 98.65 L726.75 99.36 L727.57 100.07 L728.39 100.77 L729.22 101.46 L730.04 102.14 L730.86 102.81 L731.68 103.47 L732.51 104.12 L733.33 104.75 L734.15 105.36 L734.98 105.96 L735.80 106.53 L736.62 107.09 L737.44 107.62 L738.27 108.13 L739.09 108.62 L739.91 109.07 L740.74 109.50 L741.56 109.88 L742.38 110.23 L743.20 110.53 L744.03 110.79 L744.85 111.01 L745.67 111.19 L746.49 111.33 L747.32 111.43 L748.14 111.50 L748.96 111.53 L749.79 111.53 L750.61 111.50 L751.43 111.43 L752.25 111.33 L753.08 111.20 L753.90 111.04 L754.72 110.84 L755.54 110.60 L756.37 110.33 L757.19 110.01 L758.01 109.66 L758.84 109.26 L759.66 108.84 L760.48 108.39 L761.30 107.93 L762.13 107.45 L762.95 106.97 L763.77 106.47 L764.59 105.96 L765.42 105.44 L766.24 104.89 L767.06 104.31 L767.89 103.71 L768.71 103.07 L769.53 102.41 L770.35 101.73 L771.18 101.02 L772.00 100.30 L772.82 99.56 L773.64 98.80 L774.47 98.03 L775.29 97.25 L776.11 96.45 L776.94 95.65 L777.76 94.84 L778.58 94.03 L779.40 93.21 L780.23 92.39 L781.05 91.57 L781.87 90.75 L782.70 89.93 L783.52 89.11 L784.34 88.31 L785.16 87.51 L785.99 86.72 L786.81 85.94 L787.63 85.17 L788.45 84.41 L789.28 83.66" stroke="#00f24c" stroke-width="2.2" stroke-dasharray="7.6 3.6 2 3.6"/>
<path d="M461.00 211.30 L461.82 210.66 L462.65 210.05 L463.47 209.46 L464.29 208.89 L465.11 208.34 L465.94 207.81 L466.76 207.29 L467.58 206.80 L468.40 206.32 L469.23 205.86 L470.05 205.42 L470.87 204.99 L471.70 204.58 L472.52 204.17 L473.34 203.78 L474.16 203.40 L474.99 203.03 L475.81 202.67 L476.63 202.32 L477.45 201.97 L478.28 201.63 L479.10 201.29 L479.92 200.96 L480.75 200.63 L481.57 200.31 L482.39 199.98 L483.21 199.64 L484.04 199.29 L484.86 198.92 L485.68 198.52 L486.51 198.10 L487.33 197.64 L488.15 197.15 L488.97 196.64 L489.80 196.10 L490.62 195.53 L491.44 194.94 L492.26 194.32 L493.09 193.68 L493.91 193.01 L494.73 192.32 L495.56 191.62 L496.38 190.89 L497.20 190.15 L498.02 189.39 L498.85 188.61 L499.67 187.83 L500.49 187.03 L501.31 186.23 L502.14 185.41 L502.96 184.58 L503.78 183.73 L504.61 182.86 L505.43 181.97 L506.25 181.04 L507.07 180.09 L507.90 179.11 L508.72 178.11 L509.54 177.10 L510.36 176.06 L511.19 175.01 L512.01 173.94 L512.83 172.86 L513.66 171.77 L514.48 170.65 L515.30 169.52 L516.12 168.38 L516.95 167.23 L517.77 166.08 L518.59 164.93 L519.42 163.80 L520.24 162.68 L521.06 161.60 L521.88 160.54 L522.71 159.51 L523.53 158.51 L524.35 157.54 L525.17 156.59 L526.00 155.67 L526.82 154.77 L527.64 153.89 L528.47 153.04 L529.29 152.22 L530.11 151.41 L530.93 150.63 L531.76 149.87 L532.58 149.14 L533.40 148.43 L534.22 147.74 L535.05 147.07 L535.87 146.43 L536.69 145.81 L537.52 145.22 L538.34 144.67 L539.16 144.15 L539.98 143.68 L540.81 143.24 L541.63 142.83 L542.45 142.45 L543.27 142.08 L544.10 141.72 L544.92 141.35 L545.74 140.97 L546.57 140.58 L547.39 140.19 L548.21 139.79 L549.03 139.40 L549.86 139.03 L550.68 138.66 L551.50 138.31 L552.33 137.97 L553.15 137.64 L553.97 137.32 L554.79 137.01 L555.62 136.71 L556.44 136.41 L557.26 136.13 L558.08 135.86 L558.91 135.60 L559.73 135.35 L560.55 135.11 L561.38 134.88 L562.20 134.67 L563.02 134.46 L563.84 134.25 L564.67 134.05 L565.49 133.84 L566.31 133.64 L567.13 133.44 L567.96 133.24 L568.78 133.05 L569.60 132.86 L570.43 132.67 L571.25 132.49 L572.07 132.30 L572.89 132.12 L573.72 131.93 L574.54 131.75 L575.36 131.56 L576.18 131.37 L577.01 131.18 L577.83 130.99 L578.65 130.81 L579.48 130.65 L580.30 130.49 L581.12 130.35 L581.94 130.21 L582.77 130.09 L583.59 129.98 L584.41 129.88 L585.24 129.79 L586.06 129.71 L586.88 129.64 L587.70 129.58 L588.53 129.53 L589.35 129.49 L590.17 129.47 L590.99 129.45 L591.82 129.44 L592.64 129.42 L593.46 129.41 L594.29 129.39 L595.11 129.37 L595.93 129.33 L596.75 129.29 L597.58 129.25 L598.40 129.19 L599.22 129.14 L600.04 129.07 L600.87 128.99 L601.69 128.90 L602.51 128.78 L603.34 128.64 L604.16 128.45 L604.98 128.23 L605.80 127.97 L606.63 127.69 L607.45 127.39 L608.27 127.07 L609.10 126.75 L609.92 126.43 L610.74 126.12 L611.56 125.80 L612.39 125.49 L613.21 125.18 L614.03 124.86 L614.85 124.55 L615.68 124.24 L616.50 123.93 L617.32 123.62 L618.15 123.32 L618.97 123.02 L619.79 122.72 L620.61 122.43 L621.44 122.15 L622.26 121.88 L623.08 121.62 L623.90 121.38 L624.73 121.15 L625.55 120.93 L626.37 120.73 L627.20 120.54 L628.02 120.36 L628.84 120.19 L629.66 120.03 L630.49 119.88 L631.31 119.73 L632.13 119.59 L632.95 119.45 L633.78 119.32 L634.60 119.20 L635.42 119.08 L636.25 118.96 L637.07 118.86 L637.89 118.75 L638.71 118.66 L639.54 118.57 L640.36 118.48 L641.18 118.40 L642.00 118.31 L642.83 118.23 L643.65 118.15 L644.47 118.07 L645.30 117.99 L646.12 117.90 L646.94 117.81 L647.76 117.72 L648.59 117.61 L649.41 117.51 L650.23 117.40 L651.06 117.28 L651.88 117.16 L652.70 117.03 L653.52 116.90 L654.35 116.77 L655.17 116.64 L655.99 116.50 L656.81 116.36 L657.64 116.22 L658.46 116.09 L659.28 115.96 L660.11 115.83 L660.93 115.71 L661.75 115.60 L662.57 115.50 L663.40 115.40 L664.22 115.32 L665.04 115.25 L665.86 115.18 L666.69 115.11 L667.51 115.03 L668.33 114.94 L669.16 114.85 L669.98 114.74 L670.80 114.62 L671.62 114.49 L672.45 114.35 L673.27 114.22 L674.09 114.08 L674.91 113.94 L675.74 113.80 L676.56 113.66 L677.38 113.51 L678.21 113.37 L679.03 113.22 L679.85 113.08 L680.67 112.94 L681.50 112.80 L682.32 112.66 L683.14 112.53 L683.97 112.40 L684.79 112.28 L685.61 112.16 L686.43 112.05 L687.26 111.94 L688.08 111.83 L688.90 111.73 L689.72 111.63 L690.55 111.53 L691.37 111.43 L692.19 111.32 L693.02 111.20 L693.84 111.07 L694.66 110.94 L695.48 110.82 L696.31 110.70 L697.13 110.61 L697.95 110.54 L698.77 110.49 L699.60 110.48 L700.42 110.48 L701.24 110.49 L702.07 110.51 L702.89 110.53 L703.71 110.54 L704.53 110.55 L705.36 110.57 L706.18 110.60 L707.00 110.66 L707.83 110.75 L708.65 110.89 L709.47 111.05 L710.29 111.25 L711.12 111.48 L711.94 111.73 L712.76 111.99 L713.58 112.27 L714.41 112.56 L715.23 112.87 L716.05 113.21 L716.88 113.57 L717.70 113.96 L718.52 114.38 L719.34 114.83 L720.17 115.32 L720.99 115.83 L721.81 116.36 L722.63 116.92 L723.46 117.49 L724.28 118.08 L725.10 118.69 L725.93 119.31 L726.75 119.93 L727.57 120.56 L728.39 121.19 L729.22 121.83 L730.04 122.46 L730.86 123.10 L731.68 123.74 L732.51 124.39 L733.33 125.04 L734.15 125.69 L734.98 126.33 L735.80 126.97 L736.62 127.60 L737.44 128.22 L738.27 128.82 L739.09 129.39 L739.91 129.92 L740.74 130.40 L741.56 130.82 L742.38 131.16 L743.20 131.43 L744.03 131.62 L744.85 131.76 L745.67 131.86 L746.49 131.93 L747.32 131.99 L748.14 132.05 L748.96 132.10 L749.79 132.14 L750.61 132.15 L751.43 132.13 L752.25 132.07 L753.08 131.96 L753.90 131.81 L754.72 131.60 L755.54 131.35 L756.37 131.05 L757.19 130.71 L758.01 130.32 L758.84 129.89 L759.66 129.42 L760.48 128.91 L761.30 128.36 L762.13 127.78 L762.95 127.16 L763.77 126.51 L764.59 125.84 L765.42 125.16 L766.24 124.47 L767.06 123.79 L767.89 123.12 L768.71 122.46 L769.53 121.81 L770.35 121.15 L771.18 120.49 L772.00 119.83 L772.82 119.15 L773.64 118.46 L774.47 117.76 L775.29 117.04 L776.11 116.31 L776.94 115.55 L777.76 114.78 L778.58 113.99 L779.40 113.18 L780.23 112.35 L781.05 111.51 L781.87 110.64 L782.70 109.76 L783.52 108.86 L784.34 107.94 L785.16 107.02 L785.99 106.10 L786.81 105.18 L787.63 104.26 L788.45 103.34 L789.28 102.44" stroke="#0070ff" stroke-width="2.2" stroke-dasharray="7.65 7.3"/>
</g>
<g font-family="Liberation Sans, sans-serif" stroke="#000" stroke-width="1.25" stroke-linejoin="round" font-size="16.7" letter-spacing="1.6" fill="#000">
<text x="83.7" y="288.1" text-anchor="middle" letter-spacing="0.6" stroke-width="0.95">150</text>
<text x="145.8" y="288.1" text-anchor="middle" letter-spacing="0.6" stroke-width="0.95">200</text>
<text x="208.0" y="288.1" text-anchor="middle" letter-spacing="0.6" stroke-width="0.95">250</text>
<text x="270.2" y="288.1" text-anchor="middle" letter-spacing="0.6" stroke-width="0.95">300</text>
<text x="332.4" y="288.1" text-anchor="middle" letter-spacing="0.6" stroke-width="0.95">350</text>
<text x="394.6" y="288.1" text-anchor="middle" letter-spacing="0.6" stroke-width="0.95">400</text>
<text x="494.2" y="288.1" text-anchor="middle" letter-spacing="0.6" stroke-width="0.95">160</text>
<text x="560.0" y="288.1" text-anchor="middle" letter-spacing="0.6" stroke-width="0.95">180</text>
<text x="625.9" y="288.1" text-anchor="middle" letter-spacing="0.6" stroke-width="0.95">200</text>
<text x="691.7" y="288.1" text-anchor="middle" letter-spacing="0.6" stroke-width="0.95">220</text>
<text x="757.5" y="288.1" text-anchor="middle" letter-spacing="0.6" stroke-width="0.95">240</text>
<text x="59.7" y="263.9" text-anchor="end">0</text>
<text x="59.7" y="218.0" text-anchor="end">20</text>
<text x="59.7" y="165.4" text-anchor="end">40</text>
<text x="59.7" y="112.9" text-anchor="end">60</text>
<text x="59.7" y="60.3" text-anchor="end">80</text>
<text x="59.7" y="12.6" text-anchor="end">100</text>
<text x="456.2" y="263.9" text-anchor="end">50</text>
<text x="456.2" y="218.0" text-anchor="end">55</text>
<text x="456.2" y="165.4" text-anchor="end">60</text>
<text x="456.2" y="112.9" text-anchor="end">65</text>
<text x="456.2" y="60.3" text-anchor="end">70</text>
<text x="456.2" y="12.6" text-anchor="end">75</text>
</g>
<g font-family="Liberation Serif, serif" font-weight="bold" stroke="#000" stroke-width="0.3" stroke-linejoin="round" font-size="19.0" fill="#000">
<text x="152.9" y="308.2" textLength="99.2" lengthAdjust="spacingAndGlyphs">Wavelength</text>
<text x="261.2" y="308.2" textLength="42.8" lengthAdjust="spacingAndGlyphs">(nm)</text>
<text x="549.5" y="308.2" textLength="99.2" lengthAdjust="spacingAndGlyphs">Wavelength</text>
<text x="657.8" y="308.2" textLength="42.8" lengthAdjust="spacingAndGlyphs">(nm)</text>
<g transform="translate(13.8,0) rotate(-90)">
<text x="-223.1" y="0" textLength="68.0" lengthAdjust="spacingAndGlyphs">Percent</text>
<text x="-145.0" y="0" textLength="103.5" lengthAdjust="spacingAndGlyphs">Reflectance</text>
</g>
<g transform="translate(419.8,0) rotate(-90)">
<text x="-223.1" y="0" textLength="68.0" lengthAdjust="spacingAndGlyphs">Percent</text>
<text x="-145.0" y="0" textLength="103.5" lengthAdjust="spacingAndGlyphs">Reflectance</text>
</g>
</g>
<rect x="126.8" y="176.8" width="256.6" height="70.2" fill="#fff" stroke="#000" stroke-width="1.7"/>
<g font-family="Liberation Serif, serif" font-weight="bold" stroke="#000" stroke-width="0.3" stroke-linejoin="round" font-size="15.9" fill="#000">
<text x="284.2" y="192.8" textLength="13.3" lengthAdjust="spacingAndGlyphs">Si</text>
<text x="157.4" y="208.7" textLength="12.8" lengthAdjust="spacingAndGlyphs">Si</text>
<text x="178.2" y="208.7" textLength="20.0" lengthAdjust="spacingAndGlyphs">w/</text>
<text x="205.0" y="208.7" textLength="46.5" lengthAdjust="spacingAndGlyphs">native</text>
<text x="258.3" y="208.7" textLength="39.8" lengthAdjust="spacingAndGlyphs">oxide</text>
<text x="258.9" y="224.7" textLength="18.6" lengthAdjust="spacingAndGlyphs">DD</text>
<text x="284.2" y="224.7" textLength="13.3" lengthAdjust="spacingAndGlyphs">Si</text>
<text x="130.8" y="240.6" textLength="20.0" lengthAdjust="spacingAndGlyphs">DD</text>
<text x="157.4" y="240.6" textLength="12.8" lengthAdjust="spacingAndGlyphs">Si</text>
<text x="178.2" y="240.6" textLength="20.0" lengthAdjust="spacingAndGlyphs">w/</text>
<text x="205.0" y="240.6" textLength="46.5" lengthAdjust="spacingAndGlyphs">native</text>
<text x="258.3" y="240.6" textLength="39.8" lengthAdjust="spacingAndGlyphs">oxide</text>
</g>
<path d="M308.5 188.3 H368.4" fill="none" stroke="#000" stroke-width="2.1"/>
<path d="M308.5 204.2 H370.4" fill="none" stroke="#ff0000" stroke-width="2.1" stroke-dasharray="2 3"/>
<path d="M308.5 220.2 H368.0" fill="none" stroke="#00f24c" stroke-width="2.1" stroke-dasharray="7.6 7.3"/>
<path d="M308.5 236.1 H368.4" fill="none" stroke="#0070ff" stroke-width="2.1" stroke-dasharray="7.8 3.7 1.8 3.7"/>
</svg>
</body></html>
